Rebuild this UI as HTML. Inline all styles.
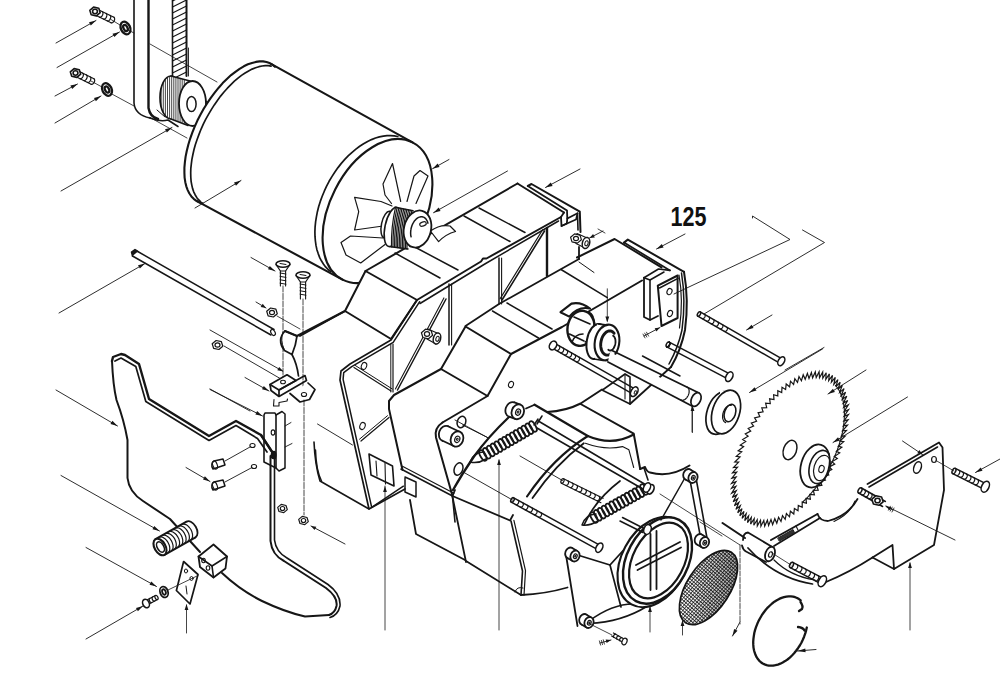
<!DOCTYPE html>
<html><head><meta charset="utf-8"><title>Exploded diagram</title>
<style>html,body{margin:0;padding:0;background:#fff}body{width:1000px;height:683px;overflow:hidden;font-family:"Liberation Sans",sans-serif}svg{display:block}</style>
</head><body>
<svg width="1000" height="683" viewBox="0 0 1000 683" stroke-linecap="round" stroke-linejoin="round">
<rect width="1000" height="683" fill="#fff"/>
<line x1="95.6" y1="15.3" x2="111.1" y2="22.8" stroke="#161616" stroke-width="1.2" />
<line x1="98.4" y1="9.7" x2="113.9" y2="17.2" stroke="#161616" stroke-width="1.2" />
<ellipse cx="97" cy="12.5" rx="1.9" ry="3.1" transform="rotate(25.8 97 12.5)" fill="none" stroke="#161616" stroke-width="1.2" />
<path d="M102.2 11.6 L102.8 12.1 L103 13 L102.9 14.1 L102.5 15.2 L101.9 16.2 L101.1 16.9 L100.3 17.3 L99.5 17.2" fill="none" stroke="#161616" stroke-width="1.2" />
<path d="M106.1 13.5 L106.6 14 L106.9 14.8 L106.8 15.9 L106.4 17.1 L105.8 18.1 L105 18.8 L104.1 19.1 L103.4 19" fill="none" stroke="#161616" stroke-width="1.2" />
<path d="M110 15.3 L110.5 15.9 L110.8 16.7 L110.7 17.8 L110.3 18.9 L109.7 19.9 L108.9 20.7 L108 21 L107.3 20.9" fill="none" stroke="#161616" stroke-width="1.2" />
<path d="M113.9 17.2 L114.4 17.7 L114.6 18.6 L114.6 19.7 L114.2 20.8 L113.5 21.8 L112.7 22.5 L111.9 22.9 L111.1 22.8" fill="none" stroke="#161616" stroke-width="1.2" />
<path d="M100.2 12.7 L96.4 15.9 L91.2 14.7 L89.8 10.3 L93.6 7.1 L98.8 8.3 Z" fill="#fff" stroke="#161616" stroke-width="1.6" />
<ellipse cx="95" cy="11.5" rx="2.4" ry="2.2" transform="rotate(0 95 11.5)" fill="none" stroke="#161616" stroke-width="1.6" />
<line x1="76.1" y1="76.8" x2="91.1" y2="84.3" stroke="#161616" stroke-width="1.2" />
<line x1="78.9" y1="71.2" x2="93.9" y2="78.7" stroke="#161616" stroke-width="1.2" />
<ellipse cx="77.5" cy="74" rx="1.9" ry="3.1" transform="rotate(26.6 77.5 74)" fill="none" stroke="#161616" stroke-width="1.2" />
<path d="M82.6 73.1 L83.2 73.6 L83.4 74.5 L83.3 75.6 L82.9 76.7 L82.3 77.7 L81.4 78.4 L80.6 78.8 L79.9 78.6" fill="none" stroke="#161616" stroke-width="1.2" />
<path d="M86.4 75 L86.9 75.5 L87.2 76.4 L87.1 77.5 L86.7 78.6 L86 79.6 L85.2 80.3 L84.4 80.6 L83.6 80.5" fill="none" stroke="#161616" stroke-width="1.2" />
<path d="M90.1 76.9 L90.7 77.4 L90.9 78.3 L90.8 79.3 L90.4 80.5 L89.8 81.5 L88.9 82.2 L88.1 82.5 L87.4 82.4" fill="none" stroke="#161616" stroke-width="1.2" />
<path d="M93.9 78.7 L94.4 79.3 L94.7 80.1 L94.6 81.2 L94.2 82.3 L93.5 83.3 L92.7 84 L91.9 84.4 L91.1 84.3" fill="none" stroke="#161616" stroke-width="1.2" />
<path d="M80.7 74.2 L76.9 77.4 L71.7 76.2 L70.3 71.8 L74.1 68.6 L79.3 69.8 Z" fill="#fff" stroke="#161616" stroke-width="1.6" />
<ellipse cx="75.5" cy="73" rx="2.4" ry="2.2" transform="rotate(0 75.5 73)" fill="none" stroke="#161616" stroke-width="1.6" />
<ellipse cx="125.5" cy="28" rx="4.6" ry="6.6" transform="rotate(-25 125.5 28)" fill="#fff" stroke="#161616" stroke-width="2.3" />
<ellipse cx="125.5" cy="28" rx="2" ry="3.3" transform="rotate(-25 125.5 28)" fill="none" stroke="#161616" stroke-width="2.3" />
<ellipse cx="107" cy="89.5" rx="4.6" ry="6.6" transform="rotate(-25 107 89.5)" fill="#fff" stroke="#161616" stroke-width="2.3" />
<ellipse cx="107" cy="89.5" rx="2" ry="3.3" transform="rotate(-25 107 89.5)" fill="none" stroke="#161616" stroke-width="2.3" />
<line x1="56" y1="43" x2="96" y2="20.5" stroke="#161616" stroke-width="0.9" />
<path d="M96 20.5 L90.8 25.6 L89 22.3 Z" fill="#161616" stroke="none"/>
<line x1="57" y1="67.5" x2="119.5" y2="32" stroke="#161616" stroke-width="0.9" />
<path d="M119.5 32 L114.4 37.1 L112.5 33.8 Z" fill="#161616" stroke="none"/>
<line x1="55" y1="96" x2="77.5" y2="84" stroke="#161616" stroke-width="0.9" />
<path d="M77.5 84 L72.2 89 L70.4 85.6 Z" fill="#161616" stroke="none"/>
<line x1="55" y1="123" x2="101" y2="96" stroke="#161616" stroke-width="0.9" />
<path d="M101 96 L95.9 101.2 L94 97.9 Z" fill="#161616" stroke="none"/>
<line x1="111" y1="19.5" x2="120" y2="25" stroke="#161616" stroke-width="0.8" />
<line x1="128" y1="30" x2="134" y2="33" stroke="#161616" stroke-width="0.8" />
<line x1="91" y1="81" x2="102" y2="87" stroke="#161616" stroke-width="0.8" />
<line x1="110" y1="93" x2="134" y2="106" stroke="#161616" stroke-width="0.8" />
<line x1="61" y1="191" x2="172" y2="127.5" stroke="#161616" stroke-width="0.9" />
<path d="M172 127.5 L166.9 132.6 L165 129.3 Z" fill="#161616" stroke="none"/>
<path d="M134 0 L134 103 Q135 115 150 118" fill="none" stroke="#161616" stroke-width="1.6" />
<path d="M148.5 0 L148.5 108 Q150 117 158 119" fill="none" stroke="#161616" stroke-width="2.4" />
<line x1="150" y1="44" x2="217" y2="82" stroke="#161616" stroke-width="0.8" />
<line x1="150" y1="117.5" x2="187" y2="138" stroke="#161616" stroke-width="0.8" />
<line x1="172.5" y1="0" x2="172.5" y2="76" stroke="#161616" stroke-width="1.6" />
<line x1="186.5" y1="0" x2="186.5" y2="76" stroke="#161616" stroke-width="2" />
<line x1="188.5" y1="48" x2="188.5" y2="76" stroke="#161616" stroke-width="0.9" />
<line x1="172.5" y1="1" x2="186.5" y2="-6" stroke="#161616" stroke-width="1.2" />
<line x1="172.5" y1="7" x2="186.5" y2="0" stroke="#161616" stroke-width="1.2" />
<line x1="172.5" y1="13" x2="186.5" y2="6" stroke="#161616" stroke-width="1.2" />
<line x1="172.5" y1="19" x2="186.5" y2="12" stroke="#161616" stroke-width="1.2" />
<line x1="172.5" y1="25" x2="186.5" y2="18" stroke="#161616" stroke-width="1.2" />
<line x1="172.5" y1="31" x2="186.5" y2="24" stroke="#161616" stroke-width="1.2" />
<line x1="172.5" y1="37" x2="186.5" y2="30" stroke="#161616" stroke-width="1.2" />
<line x1="172.5" y1="43" x2="186.5" y2="36" stroke="#161616" stroke-width="1.2" />
<line x1="172.5" y1="49" x2="186.5" y2="42" stroke="#161616" stroke-width="1.2" />
<line x1="172.5" y1="55" x2="186.5" y2="48" stroke="#161616" stroke-width="1.2" />
<line x1="172.5" y1="61" x2="186.5" y2="54" stroke="#161616" stroke-width="1.2" />
<line x1="172.5" y1="67" x2="186.5" y2="60" stroke="#161616" stroke-width="1.2" />
<line x1="172.5" y1="73" x2="186.5" y2="66" stroke="#161616" stroke-width="1.2" />
<line x1="172.5" y1="79" x2="186.5" y2="72" stroke="#161616" stroke-width="1.2" />
<ellipse cx="171" cy="97.5" rx="11" ry="21.5" transform="rotate(0 171 97.5)" fill="#fff" stroke="#161616" stroke-width="1.7" />
<path d="M171 76 L190 81 L190 127 L171 119 Z" fill="#fff" stroke="#161616" stroke-width="0" />
<line x1="171" y1="76" x2="190" y2="81" stroke="#161616" stroke-width="1.7" />
<line x1="171" y1="119" x2="188" y2="125.5" stroke="#161616" stroke-width="1.5" />
<line x1="161.2" y1="88.2" x2="161.2" y2="106.8" stroke="#161616" stroke-width="0.8" />
<line x1="163.3" y1="82.6" x2="163.3" y2="112.4" stroke="#161616" stroke-width="0.8" />
<line x1="165.4" y1="79.5" x2="165.4" y2="115.5" stroke="#161616" stroke-width="0.8" />
<line x1="167.5" y1="77.6" x2="167.5" y2="117.4" stroke="#161616" stroke-width="0.8" />
<line x1="169.6" y1="76.7" x2="169.6" y2="118.3" stroke="#161616" stroke-width="0.8" />
<line x1="171.7" y1="76.7" x2="171.7" y2="118.7" stroke="#161616" stroke-width="0.8" />
<line x1="173.8" y1="77.2" x2="173.8" y2="119.5" stroke="#161616" stroke-width="0.8" />
<line x1="175.9" y1="77.8" x2="175.9" y2="120.2" stroke="#161616" stroke-width="0.8" />
<line x1="178" y1="78.3" x2="178" y2="121" stroke="#161616" stroke-width="0.8" />
<line x1="180.1" y1="78.9" x2="180.1" y2="121.7" stroke="#161616" stroke-width="0.8" />
<line x1="182.2" y1="79.4" x2="182.2" y2="122.4" stroke="#161616" stroke-width="0.8" />
<line x1="184.3" y1="80" x2="184.3" y2="123.2" stroke="#161616" stroke-width="0.8" />
<ellipse cx="204.5" cy="106" rx="3.4" ry="5.5" transform="rotate(0 204.5 106)" fill="#fff" stroke="#161616" stroke-width="1.2" />
<ellipse cx="192.5" cy="103.5" rx="13.5" ry="22.5" transform="rotate(0 192.5 103.5)" fill="#fff" stroke="#161616" stroke-width="1.8" />
<ellipse cx="191.5" cy="104" rx="4.6" ry="7.5" transform="rotate(0 191.5 104)" fill="none" stroke="#161616" stroke-width="1.5" />
<path d="M150 118 Q160 122 168 120 L178 126.5" fill="none" stroke="#161616" stroke-width="1.5" />
<path d="M157 110 L165 117" fill="none" stroke="#161616" stroke-width="1" />
<ellipse cx="234" cy="132.5" rx="78" ry="38" transform="rotate(-62 234 132.5)" fill="#fff" stroke="#161616" stroke-width="0" />
<path d="M270.6 63.6 L412.5 142.4 L342.5 279.6 L197.4 201.4 Z" fill="#fff" stroke="#161616" stroke-width="0" />
<ellipse cx="377.5" cy="211" rx="77" ry="47.5" transform="rotate(-63 377.5 211)" fill="#fff" stroke="#161616" stroke-width="0" />
<path d="M202.4 203.2 L199.2 202.2 L196.3 200.8 L193.7 198.8 L191.4 196.4 L189.4 193.5 L187.7 190.1 L186.3 186.3 L185.3 182.2 L184.6 177.6 L184.4 172.8 L184.4 167.6 L184.9 162.2 L185.6 156.6 L186.8 150.8 L188.3 144.8 L190.1 138.8 L192.3 132.7 L194.7 126.6 L197.4 120.6 L200.4 114.7 L203.7 108.8 L207.2 103.2 L210.8 97.8 L214.7 92.6 L218.7 87.7 L222.7 83.1 L226.9 79 L231.1 75.1 L235.4 71.8 L239.6 68.8 L243.8 66.3 L247.9 64.3 L252 62.9 L255.9 61.9 L259.6 61.4 L263.1 61.4 L266.5 62 L269.5 63.1 L272.4 64.7 L274.9 66.8" fill="none" stroke="#161616" stroke-width="2.1" />
<path d="M200.5 201.6 L198.5 199.7 L196.7 197.4 L195.1 194.7 L193.7 191.8 L192.6 188.6 L191.8 185.1 L191.1 181.3 L190.8 177.3 L190.7 173.1 L190.8 168.7 L191.3 164.1 L191.9 159.4 L192.9 154.5 L194 149.5 L195.4 144.5 L197.1 139.5 L199 134.4 L201 129.3 L203.3 124.2 L205.8 119.2 L208.5 114.4 L211.3 109.6 L214.3 104.9 L217.4 100.4 L220.6 96.1 L224 92 L227.4 88.2 L230.9 84.6 L234.4 81.2 L238 78.2 L241.5 75.4 L245.1 73 L248.6 70.9 L252.1 69.1 L255.6 67.7 L258.9 66.7 L262.1 66 L265.3 65.6 L268.3 65.7 L271.1 66.1" fill="none" stroke="#161616" stroke-width="1.7" />
<line x1="270.6" y1="63.6" x2="412.5" y2="142.4" stroke="#161616" stroke-width="2.1" />
<line x1="197.4" y1="201.4" x2="342.5" y2="279.6" stroke="#161616" stroke-width="2.1" />
<ellipse cx="377.5" cy="211" rx="77" ry="47.5" transform="rotate(-63 377.5 211)" fill="none" stroke="#161616" stroke-width="2.1" />
<path d="M330.8 271.7 L328.1 269.5 L325.6 266.9 L323.4 264 L321.4 260.8 L319.6 257.4 L318.2 253.6 L316.9 249.7 L316 245.4 L315.4 241 L315 236.4 L314.9 231.7 L315.1 226.8 L315.6 221.8 L316.4 216.8 L317.4 211.7 L318.7 206.5 L320.3 201.4 L322.2 196.3 L324.3 191.2 L326.6 186.2 L329.1 181.3 L331.9 176.6 L334.9 172 L338 167.6 L341.3 163.4 L344.8 159.4 L348.4 155.7 L352.1 152.3 L355.9 149.1 L359.7 146.2 L363.6 143.7 L367.6 141.4 L371.5 139.6 L375.5 138 L379.4 136.9 L383.3 136.1 L387 135.6 L390.7 135.6 L394.3 135.9 L397.8 136.5" fill="none" stroke="#161616" stroke-width="1.7" />
<line x1="195" y1="208" x2="241" y2="180.5" stroke="#161616" stroke-width="0.9" />
<path d="M241 180.5 L236 185.7 L234 182.5 Z" fill="#161616" stroke="none"/>
<line x1="136" y1="250.5" x2="274" y2="329.5" stroke="#161616" stroke-width="1.5" />
<line x1="132.5" y1="256" x2="271" y2="335" stroke="#161616" stroke-width="1.5" />
<path d="M132.5 256 L131.5 252 L135 249.5 L138 251.5" fill="#161616" stroke="#161616" stroke-width="1.5" />
<ellipse cx="273" cy="332.5" rx="2" ry="3.2" transform="rotate(-30 273 332.5)" fill="none" stroke="#161616" stroke-width="1.2" />
<line x1="59" y1="313" x2="145" y2="263.5" stroke="#161616" stroke-width="0.9" />
<path d="M145 263.5 L139.9 268.6 L138 265.3 Z" fill="#161616" stroke="none"/>
<ellipse cx="283" cy="264" rx="7" ry="3.2" transform="rotate(0 283 264)" fill="#fff" stroke="#161616" stroke-width="1.5" />
<path d="M276 264.5 L280.4 271 L285.6 271 L290 264.5" fill="none" stroke="#161616" stroke-width="1.2" />
<line x1="280.4" y1="271" x2="280.4" y2="286" stroke="#161616" stroke-width="1.1" />
<line x1="285.6" y1="271" x2="285.6" y2="286" stroke="#161616" stroke-width="1.1" />
<line x1="280.1" y1="273" x2="285.9" y2="274" stroke="#161616" stroke-width="1" />
<line x1="280.1" y1="276.4" x2="285.9" y2="277.4" stroke="#161616" stroke-width="1" />
<line x1="280.1" y1="279.8" x2="285.9" y2="280.8" stroke="#161616" stroke-width="1" />
<line x1="280.1" y1="283.2" x2="285.9" y2="284.2" stroke="#161616" stroke-width="1" />
<line x1="280" y1="263.5" x2="286" y2="264.5" stroke="#161616" stroke-width="1" />
<ellipse cx="303" cy="275" rx="7" ry="3.2" transform="rotate(0 303 275)" fill="#fff" stroke="#161616" stroke-width="1.5" />
<path d="M296 275.5 L300.4 282 L305.6 282 L310 275.5" fill="none" stroke="#161616" stroke-width="1.2" />
<line x1="300.4" y1="282" x2="300.4" y2="299" stroke="#161616" stroke-width="1.1" />
<line x1="305.6" y1="282" x2="305.6" y2="299" stroke="#161616" stroke-width="1.1" />
<line x1="300.1" y1="284" x2="305.9" y2="285" stroke="#161616" stroke-width="1" />
<line x1="300.1" y1="287.4" x2="305.9" y2="288.4" stroke="#161616" stroke-width="1" />
<line x1="300.1" y1="290.8" x2="305.9" y2="291.8" stroke="#161616" stroke-width="1" />
<line x1="300.1" y1="294.2" x2="305.9" y2="295.2" stroke="#161616" stroke-width="1" />
<line x1="300" y1="274.5" x2="306" y2="275.5" stroke="#161616" stroke-width="1" />
<line x1="283" y1="286" x2="283" y2="382" stroke="#161616" stroke-width="0.8" stroke-dasharray="6 1.5"/>
<line x1="303" y1="299" x2="303" y2="395" stroke="#161616" stroke-width="0.8" stroke-dasharray="6 1.5"/>
<line x1="251" y1="257.5" x2="275" y2="271" stroke="#161616" stroke-width="0.9" />
<path d="M275 271 L268 269.2 L269.8 265.9 Z" fill="#161616" stroke="none"/>
<path d="M277.3 313.7 L273.4 317 L268.1 315.8 L266.7 311.3 L270.6 308 L275.9 309.2 Z" fill="#fff" stroke="#161616" stroke-width="1.2" />
<ellipse cx="272" cy="312.5" rx="2.5" ry="2.2" transform="rotate(0 272 312.5)" fill="none" stroke="#161616" stroke-width="1.2" />
<line x1="256" y1="302" x2="266" y2="308" stroke="#161616" stroke-width="0.9" />
<path d="M266 308 L260.7 307.1 L262.7 303.8 Z" fill="#161616" stroke="none"/>
<line x1="277" y1="316" x2="300" y2="329" stroke="#161616" stroke-width="0.8" />
<path d="M222.8 346.2 L218.9 349.5 L213.6 348.3 L212.2 343.8 L216.1 340.5 L221.4 341.7 Z" fill="#fff" stroke="#161616" stroke-width="1.2" />
<ellipse cx="217.5" cy="345" rx="2.5" ry="2.2" transform="rotate(0 217.5 345)" fill="none" stroke="#161616" stroke-width="1.2" />
<line x1="210" y1="330" x2="282.5" y2="371" stroke="#161616" stroke-width="0.9" />
<line x1="224" y1="346" x2="281" y2="379" stroke="#161616" stroke-width="0.9" />
<path d="M283.5 371.5 L277.3 370.2 L279.2 366.9 Z" fill="#161616" stroke="none"/>
<line x1="245" y1="377.5" x2="269" y2="391" stroke="#161616" stroke-width="0.9" />
<path d="M269 391 L262 389.2 L263.8 385.9 Z" fill="#161616" stroke="none"/>
<line x1="210" y1="389" x2="250" y2="411" stroke="#161616" stroke-width="0.9" />
<line x1="210" y1="389.5" x2="262.5" y2="416" stroke="#161616" stroke-width="0.9" />
<path d="M262.5 416 L255.4 414.5 L257.1 411.1 Z" fill="#161616" stroke="none"/>
<path d="M391.5 203.5 L385 195 L383 184 L392.5 163.5 L400.7 201.5" fill="#fff" stroke="#161616" stroke-width="1.2" />
<path d="M407 201.5 L414 176 L420 170.5 L428 176 L416 203.5" fill="#fff" stroke="#161616" stroke-width="1.2" />
<path d="M383 226 L354.6 230 L358.7 211.7 L354.6 197.4 L381 201.5 L392 206" fill="#fff" stroke="#161616" stroke-width="1.2" />
<path d="M385 244.5 L360.7 263 L346 255 L341 242.5 L350.5 236 L383 238" fill="#fff" stroke="#161616" stroke-width="1.2" />
<path d="M365.5 271 L517.5 183.5 L564 212.5 L417 300 Z" fill="#fff" stroke="#161616" stroke-width="0" />
<path d="M365.5 271 L417 300 L391 339 L345 311 Z" fill="#fff" stroke="#161616" stroke-width="0" />
<path d="M285 331 Q276.5 340 284.5 350.5 L292 354.5 Q296 345 297 336 Z" fill="#fff" stroke="#161616" stroke-width="1.8" />
<path d="M285 331 L297 336 L345 311" fill="none" stroke="#161616" stroke-width="2.1" />
<path d="M292 354.5 Q297 364 298.5 376" fill="none" stroke="#161616" stroke-width="1.7" />
<path d="M283 332 Q280 340 284 349" fill="none" stroke="#161616" stroke-width="1" />
<path d="M365.5 271 L417 300 L391 339 L345 311 Z" fill="none" stroke="#161616" stroke-width="2" />
<line x1="345" y1="311" x2="300" y2="336" stroke="#161616" stroke-width="1.8" />
<line x1="365.5" y1="271" x2="517.5" y2="183.5" stroke="#161616" stroke-width="2" />
<path d="M517.5 183.5 L564 212.5" fill="none" stroke="#161616" stroke-width="2" />
<path d="M527.8 186 L531.5 184 L579.8 211.7 L580.5 232" fill="none" stroke="#161616" stroke-width="2" />
<path d="M527.8 186 L567 210.5 L567.3 218.5 L577.5 213.3" fill="none" stroke="#161616" stroke-width="1.8" />
<path d="M564 212.5 L561 217 L561.5 226 L566.8 223.5 L567.3 218.5" fill="none" stroke="#161616" stroke-width="1.8" />
<path d="M561.5 226 L576 219.5 L577.5 213.3 L578 230" fill="none" stroke="#161616" stroke-width="1.6" />
<line x1="579" y1="247" x2="579" y2="259" stroke="#161616" stroke-width="1.8" />
<path d="M417 300 L481 261.5 L483 258.5 L486.5 258.5 L561 217" fill="none" stroke="#161616" stroke-width="2" />
<path d="M420 303.5 L484 264.5 L558.5 221" fill="none" stroke="#161616" stroke-width="1.5" />
<line x1="479" y1="208" x2="525" y2="232.5" stroke="#161616" stroke-width="1.5" />
<line x1="464" y1="216" x2="510" y2="241.5" stroke="#161616" stroke-width="1.5" />
<line x1="411" y1="245" x2="458" y2="270" stroke="#161616" stroke-width="1.5" />
<line x1="395" y1="253" x2="440" y2="278" stroke="#161616" stroke-width="1.5" />
<path d="M449 284 L449 345" fill="none" stroke="#161616" stroke-width="1.5" />
<path d="M451.6 284 L451.6 345" fill="none" stroke="#161616" stroke-width="1.1" />
<path d="M446 299 L397.5 390" fill="none" stroke="#161616" stroke-width="1.5" />
<path d="M443.9 297.9 L395.4 388.9" fill="none" stroke="#161616" stroke-width="1.1" />
<path d="M499 258 L499 304" fill="none" stroke="#161616" stroke-width="1.5" />
<path d="M501.6 258 L501.6 304" fill="none" stroke="#161616" stroke-width="1.1" />
<path d="M544.5 231 L502 300" fill="none" stroke="#161616" stroke-width="1.6" />
<path d="M542.6 229.8 L500.1 298.8" fill="none" stroke="#161616" stroke-width="1.2" />
<line x1="547" y1="228" x2="547" y2="276" stroke="#161616" stroke-width="2.4" />
<path d="M465.5 326 L499 304 L547 277 L579 259" fill="none" stroke="#161616" stroke-width="1.8" />
<path d="M417 300 L391 340 L350 364 L341 371 L340 380 L369 509 L405 489" fill="none" stroke="#161616" stroke-width="1.7" />
<path d="M419.7 301.7 L393.2 342.3 L351.7 366.7 L343.7 372.7 L343.1 379.4 L371.7 507.4 L403.4 486.2" fill="none" stroke="#161616" stroke-width="1.5" />
<path d="M354 367.5 L391 391" fill="none" stroke="#161616" stroke-width="1.2" />
<path d="M355.3 365.5 L392.3 389" fill="none" stroke="#161616" stroke-width="1" />
<path d="M393 344 L393 392" fill="none" stroke="#161616" stroke-width="1.2" />
<path d="M390.8 344 L390.8 392" fill="none" stroke="#161616" stroke-width="1" />
<path d="M361 441 L389 417.5" fill="none" stroke="#161616" stroke-width="1.2" />
<path d="M359.5 439.2 L387.5 415.7" fill="none" stroke="#161616" stroke-width="1" />
<ellipse cx="364" cy="366" rx="2.6" ry="3.6" transform="rotate(20 364 366)" fill="none" stroke="#161616" stroke-width="1.1" />
<ellipse cx="362.5" cy="426" rx="2.6" ry="3.6" transform="rotate(20 362.5 426)" fill="none" stroke="#161616" stroke-width="1.1" />
<path d="M432.6 335.3 L428.5 338.8 L422.9 337.5 L421.4 332.7 L425.5 329.2 L431.1 330.5 Z" fill="#fff" stroke="#161616" stroke-width="1.2" />
<ellipse cx="427" cy="334" rx="2.6" ry="2.3" transform="rotate(0 427 334)" fill="none" stroke="#161616" stroke-width="1.2" />
<path d="M428 329 L437 333" fill="none" stroke="#161616" stroke-width="1.2" />
<path d="M427 339 L436 344" fill="none" stroke="#161616" stroke-width="1.2" />
<ellipse cx="437" cy="338.5" rx="3.6" ry="5.6" transform="rotate(15 437 338.5)" fill="#fff" stroke="#161616" stroke-width="1.5" />
<ellipse cx="437.5" cy="338.8" rx="1.6" ry="2.6" transform="rotate(15 437.5 338.8)" fill="none" stroke="#161616" stroke-width="1" />
<path d="M369 454 L392.5 466 L394 486 L371 475 Z" fill="none" stroke="#161616" stroke-width="1.6" />
<path d="M376 461 L377 476" fill="none" stroke="#161616" stroke-width="1.1" />
<path d="M385 463 L385.5 484" fill="none" stroke="#161616" stroke-width="1.1" />
<line x1="385" y1="630" x2="385" y2="486" stroke="#161616" stroke-width="0.8" />
<path d="M385 486 L386.9 492 L383.1 492 Z" fill="#161616" stroke="none"/>
<path d="M317.5 424 L352.5 445" fill="none" stroke="#161616" stroke-width="0.9" />
<path d="M314 442 Q315 465 320 481 L369 509" fill="none" stroke="#161616" stroke-width="1.6" />
<path d="M430.4 231 Q440 224 450 226 L455.5 231.5 Q446 234 438.6 241.6 Z" fill="#fff" stroke="#161616" stroke-width="1.2" />
<ellipse cx="387" cy="224.5" rx="5.5" ry="13.5" transform="rotate(12 387 224.5)" fill="#fff" stroke="#161616" stroke-width="1.5" />
<ellipse cx="393" cy="227" rx="8" ry="20" transform="rotate(12 393 227)" fill="#fff" stroke="#161616" stroke-width="1.6" />
<path d="M395 207.3 L412 210.5 L409 249 L391 246.7 Z" fill="#fff" stroke="#161616" stroke-width="0" />
<line x1="395" y1="207.3" x2="413" y2="210.8" stroke="#161616" stroke-width="1.6" />
<line x1="391" y1="246.7" x2="408" y2="249" stroke="#161616" stroke-width="1.5" />
<path d="M395.5 207.4 Q391 227.1 391.5 246.8" fill="none" stroke="#161616" stroke-width="1.2" />
<path d="M397.1 207.7 Q392.6 227.3 393 247" fill="none" stroke="#161616" stroke-width="1.2" />
<path d="M398.8 208 Q394.2 227.6 394.6 247.2" fill="none" stroke="#161616" stroke-width="1.2" />
<path d="M400.4 208.4 Q395.8 227.9 396.1 247.4" fill="none" stroke="#161616" stroke-width="1.2" />
<path d="M402 208.7 Q397.3 228.1 397.6 247.6" fill="none" stroke="#161616" stroke-width="1.2" />
<path d="M403.7 209 Q398.9 228.4 399.2 247.8" fill="none" stroke="#161616" stroke-width="1.2" />
<path d="M405.3 209.3 Q400.5 228.7 400.7 248" fill="none" stroke="#161616" stroke-width="1.2" />
<path d="M406.9 209.6 Q402.1 228.9 402.3 248.2" fill="none" stroke="#161616" stroke-width="1.2" />
<path d="M408.6 209.9 Q403.7 229.2 403.8 248.4" fill="none" stroke="#161616" stroke-width="1.2" />
<path d="M410.2 210.3 Q405.3 229.5 405.4 248.6" fill="none" stroke="#161616" stroke-width="1.2" />
<path d="M411.9 210.6 Q406.9 229.7 406.9 248.9" fill="none" stroke="#161616" stroke-width="1.2" />
<ellipse cx="417.5" cy="229" rx="13.5" ry="18.8" transform="rotate(14 417.5 229)" fill="#fff" stroke="#161616" stroke-width="1.8" />
<path d="M411.1 236.8 L410.9 235.9 L410.7 235 L410.7 234 L410.6 233 L410.7 232 L410.7 230.9 L410.9 229.9 L411 228.9 L411.3 227.8 L411.6 226.8 L411.9 225.8 L412.3 224.8 L412.7 223.9 L413.2 223 L413.7 222.1 L414.2 221.3 L414.8 220.6 L415.4 219.9 L416 219.2 L416.7 218.6 L417.4 218.1 L418.1 217.7 L418.7 217.4 L419.4 217.1 L420.1 216.9 L420.8 216.8 L421.5 216.7 L422.2 216.8 L422.8 216.9 L423.5 217.1 L424.1 217.4 L424.7 217.8 L425.2 218.2 L425.7 218.7 L426.2 219.3 L426.6 220 L427 220.7 L427.4 221.5 L427.7 222.3 L427.9 223.2" fill="none" stroke="#161616" stroke-width="1.5" />
<ellipse cx="423" cy="224" rx="3.4" ry="2" transform="rotate(-20 423 224)" fill="none" stroke="#161616" stroke-width="1.1" />
<line x1="449" y1="159.5" x2="432.5" y2="168.7" stroke="#161616" stroke-width="0.9" />
<path d="M432.5 168.7 L437.7 163.6 L439.5 167 Z" fill="#161616" stroke="none"/>
<line x1="507.5" y1="171" x2="433.5" y2="212.7" stroke="#161616" stroke-width="0.9" />
<path d="M433.5 212.7 L438.7 207.6 L440.5 210.9 Z" fill="#161616" stroke="none"/>
<path d="M465.5 326.5 L511 354 L487.5 396 L441 369 Z" fill="none" stroke="#161616" stroke-width="2" />
<path d="M441 369 L394 395 L389 401 L389 409 L402.5 470" fill="none" stroke="#161616" stroke-width="2" />
<path d="M511 354 L562 327 L642 280.5" fill="none" stroke="#161616" stroke-width="2" />
<line x1="492.5" y1="311" x2="538.5" y2="338" stroke="#161616" stroke-width="1.5" />
<line x1="507" y1="303" x2="552" y2="329" stroke="#161616" stroke-width="1.5" />
<path d="M577 257.5 L614.6 239 L661.5 267.4" fill="none" stroke="#161616" stroke-width="2" />
<path d="M624 242.6 L627.8 239.6 L684 271.8" fill="none" stroke="#161616" stroke-width="2" />
<path d="M624 242.6 L670 270.4" fill="none" stroke="#161616" stroke-width="1.7" />
<line x1="579" y1="262" x2="594" y2="272.5" stroke="#161616" stroke-width="1" />
<line x1="561" y1="269.5" x2="607.3" y2="297.6" stroke="#161616" stroke-width="1.5" />
<path d="M581.4 239.7 L577.4 243.1 L572 241.9 L570.6 237.3 L574.6 233.9 L580 235.1 Z" fill="#fff" stroke="#161616" stroke-width="1.2" />
<ellipse cx="576" cy="238.5" rx="2.5" ry="2.2" transform="rotate(0 576 238.5)" fill="none" stroke="#161616" stroke-width="1.2" />
<path d="M577 233.5 L586 237.5" fill="none" stroke="#161616" stroke-width="1.2" />
<path d="M576 243.5 L585 248" fill="none" stroke="#161616" stroke-width="1.2" />
<ellipse cx="586" cy="243" rx="3.6" ry="5.6" transform="rotate(15 586 243)" fill="#fff" stroke="#161616" stroke-width="1.5" />
<ellipse cx="586.5" cy="243.3" rx="1.6" ry="2.6" transform="rotate(15 586.5 243.3)" fill="none" stroke="#161616" stroke-width="1" />
<line x1="603" y1="231" x2="589.5" y2="238" stroke="#161616" stroke-width="0.9" />
<path d="M589.5 238 L593.1 234 L594.8 237.4 Z" fill="#161616" stroke="none"/>
<line x1="598" y1="229" x2="605" y2="233" stroke="#161616" stroke-width="0.8" />
<line x1="580" y1="169" x2="545.5" y2="187.5" stroke="#161616" stroke-width="0.9" />
<path d="M545.5 187.5 L550.8 182.5 L552.6 185.9 Z" fill="#161616" stroke="none"/>
<line x1="685" y1="234" x2="656.5" y2="249" stroke="#161616" stroke-width="0.9" />
<path d="M656.5 249 L661.8 244.1 L663.6 247.4 Z" fill="#161616" stroke="none"/>
<path d="M644 277.7 L658.5 269 L670 270.4" fill="none" stroke="#161616" stroke-width="1.6" />
<path d="M644 277.7 L644 317 L650 320 L658 316" fill="none" stroke="#161616" stroke-width="1.8" />
<path d="M650 280 L650 320" fill="none" stroke="#161616" stroke-width="1.6" />
<path d="M644 277.7 L650 280 L664 272" fill="none" stroke="#161616" stroke-width="1.5" />
<path d="M657.8 285.7 L677.6 275.5 L677.6 318 L661.5 326 L657.8 285.7" fill="#fff" stroke="#161616" stroke-width="2" />
<path d="M659.5 288 L678 278.3" fill="none" stroke="#161616" stroke-width="1.5" />
<ellipse cx="669.5" cy="291.6" rx="2.4" ry="3.2" transform="rotate(25 669.5 291.6)" fill="none" stroke="#161616" stroke-width="1.1" />
<ellipse cx="670" cy="313.5" rx="2.4" ry="3.2" transform="rotate(25 670 313.5)" fill="none" stroke="#161616" stroke-width="1.1" />
<path d="M684 271.8 Q689 300 685 330 Q681 350 671 367" fill="none" stroke="#161616" stroke-width="2" />
<path d="M681.5 273 Q686 300 682 330 Q678 348 669 364" fill="none" stroke="#161616" stroke-width="1.5" />
<path d="M679 275 Q683.5 300 679.5 328" fill="none" stroke="#161616" stroke-width="1.2" />
<path d="M752.5 218 L752.5 216 L790 239.5 L674 294" fill="none" stroke="#161616" stroke-width="0.9" />
<path d="M802.5 230 L824.5 242.5 L704 314" fill="none" stroke="#161616" stroke-width="0.9" />
<path d="M487.5 396 L442.5 422.5" fill="none" stroke="#161616" stroke-width="2" />
<path d="M442.5 422.5 Q434 428 436 437.5 L452.5 496" fill="none" stroke="#161616" stroke-width="2" />
<path d="M547 412 Q566 411 580.6 403.5 L602 389.5" fill="none" stroke="#161616" stroke-width="2" />
<path d="M602.5 390 L625 374 L630 377 L630 404 L603 390.5" fill="none" stroke="#161616" stroke-width="1.6" />
<path d="M625 374 L625 399" fill="none" stroke="#161616" stroke-width="1.1" />
<path d="M630 404 L671 367" fill="none" stroke="#161616" stroke-width="1.8" />
<line x1="642.5" y1="356" x2="680" y2="376" stroke="#161616" stroke-width="1.5" />
<ellipse cx="511" cy="384.5" rx="2.4" ry="3.2" transform="rotate(20 511 384.5)" fill="none" stroke="#161616" stroke-width="1.1" />
<ellipse cx="461.5" cy="422" rx="4.2" ry="5.8" transform="rotate(20 461.5 422)" fill="none" stroke="#161616" stroke-width="1.5" />
<ellipse cx="458.5" cy="469" rx="4.2" ry="6.4" transform="rotate(20 458.5 469)" fill="none" stroke="#161616" stroke-width="1.5" />
<path d="M401 469 L452.5 496" fill="none" stroke="#161616" stroke-width="1.6" />
<path d="M402.4 466.3 L453.9 493.3" fill="none" stroke="#161616" stroke-width="1.2" />
<path d="M405 477 L416 482 L416 497 L405 492 L405 477" fill="none" stroke="#161616" stroke-width="1.5" />
<path d="M410 500 L416 534 L465 560" fill="none" stroke="#161616" stroke-width="1.8" />
<path d="M452.5 496 L455 522" fill="none" stroke="#161616" stroke-width="1.6" />
<path d="M452.5 497 L466 562" fill="none" stroke="#161616" stroke-width="1.8" />
<line x1="345" y1="544" x2="311" y2="526" stroke="#161616" stroke-width="0.9" />
<path d="M311 526 L316.3 526.7 L314.5 530 Z" fill="#161616" stroke="none"/>
<text x="670.5" y="226" font-family="Liberation Sans, sans-serif" font-weight="700" font-size="27.5" textLength="36" lengthAdjust="spacingAndGlyphs" fill="#111">125</text>
<ellipse cx="581" cy="328.3" rx="13.5" ry="17.6" transform="rotate(8 581 328.3)" fill="#fff" stroke="#161616" stroke-width="2.4" />
<path d="M560.5 312.2 L571.5 303.6 Q581 301.5 590 308.5 Q578 306 569.3 316.6 Z" fill="#fff" stroke="#161616" stroke-width="2.1" />
<path d="M574 317 L590 324 M569.5 334 L584 341 M572 342 Q575 334 583 334" fill="none" stroke="#161616" stroke-width="1.6" />
<path d="M589.4 312.6 L589.9 312.9 L590.4 313.2 L590.9 313.6 L591.3 314.1 L591.8 314.7 L592.2 315.3 L592.5 316 L592.9 316.7 L593.1 317.5 L593.4 318.3 L593.6 319.2 L593.8 320.1 L594 321 L594.1 322 L594.2 323 L594.2 324 L594.2 325 L594.1 326 L594 327.1 L593.9 328.1 L593.8 329.1 L593.6 330.2 L593.3 331.2 L593 332.2 L592.7 333.1 L592.4 334.1 L592 335 L591.6 335.8 L591.2 336.6 L590.7 337.4 L590.2 338.1 L589.7 338.8 L589.2 339.4 L588.7 339.9 L588.2 340.4 L587.6 340.8 L587 341.2 L586.5 341.5 L585.9 341.7 L585.3 341.8" fill="none" stroke="#161616" stroke-width="1.7" />
<line x1="607.3" y1="288.8" x2="607.3" y2="321" stroke="#161616" stroke-width="0.8" />
<path d="M607.3 322.5 L605.4 316.5 L609.2 316.5 Z" fill="#161616" stroke="none"/>
<ellipse cx="596.3" cy="341.5" rx="9.5" ry="17.8" transform="rotate(10 596.3 341.5)" fill="#fff" stroke="#161616" stroke-width="2" />
<path d="M597 324 L607 325.5 L605 361 L595 359 Z" fill="#fff" stroke="#161616" stroke-width="0" />
<line x1="598" y1="323.8" x2="609" y2="325.3" stroke="#161616" stroke-width="1.7" />
<line x1="594" y1="359" x2="603" y2="360.5" stroke="#161616" stroke-width="1.7" />
<ellipse cx="607" cy="342.5" rx="12.2" ry="18" transform="rotate(10 607 342.5)" fill="#fff" stroke="#161616" stroke-width="2.1" />
<path d="M610.4 354.1 L609.6 354.5 L608.8 354.8 L608 355 L607.2 355.1 L606.4 355 L605.6 354.8 L604.9 354.5 L604.2 354 L603.5 353.4 L602.9 352.7 L602.4 351.9 L601.9 351 L601.5 350.1 L601.2 349 L601 347.9 L600.8 346.7 L600.7 345.5 L600.7 344.2 L600.8 342.9 L601 341.7 L601.3 340.4 L601.6 339.2 L602 338 L602.5 336.9 L603.1 335.8 L603.7 334.9 L604.4 334 L605.1 333.2 L605.8 332.5 L606.6 331.9 L607.4 331.5 L608.2 331.2 L609 331 L609.8 330.9 L610.6 331 L611.4 331.2 L612.1 331.5 L612.8 332 L613.5 332.6 L614.1 333.3" fill="none" stroke="#161616" stroke-width="2.9" />
<path d="M613.1 335.8 L613.4 336 L613.7 336.2 L614 336.5 L614.3 336.8 L614.5 337.2 L614.7 337.6 L614.9 338.1 L615.1 338.6 L615.2 339.1 L615.4 339.6 L615.4 340.2 L615.5 340.8 L615.5 341.4 L615.5 342 L615.5 342.6 L615.4 343.2 L615.3 343.9 L615.2 344.5 L615 345.1 L614.8 345.7 L614.6 346.2 L614.4 346.8 L614.1 347.3 L613.9 347.8 L613.6 348.3 L613.2 348.7 L612.9 349.1 L612.6 349.4 L612.2 349.7 L611.8 350 L611.5 350.2 L611.1 350.4 L610.7 350.5 L610.3 350.5 L610 350.5 L609.6 350.5 L609.3 350.4 L608.9 350.2 L608.6 350 L608.3 349.8" fill="none" stroke="#161616" stroke-width="1.8" />
<path d="M610 352 L700 398 L694 407 L608 362 Z" fill="#fff" stroke="#161616" stroke-width="0" />
<line x1="612" y1="350.5" x2="699" y2="393" stroke="#161616" stroke-width="1.8" />
<line x1="608" y1="362" x2="692" y2="406" stroke="#161616" stroke-width="1.8" />
<ellipse cx="696" cy="399.5" rx="4.6" ry="7.2" transform="rotate(25 696 399.5)" fill="#fff" stroke="#161616" stroke-width="1.7" />
<path d="M687 387 L687.4 387.1 L687.7 387.4 L687.9 387.6 L688.2 387.9 L688.4 388.2 L688.6 388.6 L688.8 389 L688.9 389.4 L689 389.8 L689.1 390.3 L689.1 390.7 L689.2 391.2 L689.1 391.7 L689.1 392.3 L689 392.8 L688.9 393.3 L688.8 393.9 L688.6 394.4 L688.4 394.9 L688.2 395.4 L687.9 396 L687.6 396.4 L687.3 396.9 L687 397.4 L686.7 397.8 L686.3 398.2 L686 398.6 L685.6 398.9 L685.2 399.2 L684.8 399.5 L684.4 399.7 L684 399.9 L683.6 400.1 L683.2 400.2 L682.8 400.3 L682.4 400.3 L682 400.3 L681.6 400.2 L681.3 400.2 L681 400" fill="none" stroke="#161616" stroke-width="1.2" />
<line x1="692.5" y1="432.5" x2="692.5" y2="406" stroke="#161616" stroke-width="0.8" />
<path d="M692.5 405 L694.4 411 L690.6 411 Z" fill="#161616" stroke="none"/>
<line x1="552.7" y1="348.3" x2="631.7" y2="393.3" stroke="#161616" stroke-width="1.5" />
<line x1="555.3" y1="343.7" x2="634.3" y2="388.7" stroke="#161616" stroke-width="1.5" />
<ellipse cx="554" cy="346" rx="1.6" ry="2.6" transform="rotate(29.7 554 346)" fill="none" stroke="#161616" stroke-width="1.5" />
<path d="M559.2 346 L559.7 346.5 L559.8 347.2 L559.7 348.1 L559.3 349 L558.7 349.8 L558 350.4 L557.3 350.6 L556.7 350.5" fill="none" stroke="#161616" stroke-width="1.2" />
<path d="M563.2 348.2 L563.6 348.7 L563.8 349.4 L563.6 350.3 L563.3 351.3 L562.7 352.1 L561.9 352.6 L561.2 352.9 L560.6 352.8" fill="none" stroke="#161616" stroke-width="1.2" />
<path d="M567.1 350.5 L567.6 351 L567.7 351.7 L567.6 352.6 L567.2 353.5 L566.6 354.3 L565.9 354.9 L565.2 355.1 L564.6 355" fill="none" stroke="#161616" stroke-width="1.2" />
<path d="M571.1 352.7 L571.5 353.2 L571.7 353.9 L571.5 354.8 L571.2 355.8 L570.6 356.6 L569.8 357.1 L569.1 357.4 L568.5 357.3" fill="none" stroke="#161616" stroke-width="1.2" />
<path d="M575 355 L575.5 355.5 L575.6 356.2 L575.5 357.1 L575.1 358 L574.5 358.8 L573.8 359.4 L573.1 359.6 L572.5 359.5" fill="none" stroke="#161616" stroke-width="1.2" />
<path d="M579 357.2 L579.4 357.7 L579.6 358.4 L579.4 359.3 L579.1 360.3 L578.5 361.1 L577.7 361.6 L577 361.9 L576.4 361.8" fill="none" stroke="#161616" stroke-width="1.2" />
<ellipse cx="634.3" cy="391.7" rx="3.2" ry="5.2" transform="rotate(29.7 634.3 391.7)" fill="#fff" stroke="#161616" stroke-width="1.6" />
<ellipse cx="553" cy="345.5" rx="3.4" ry="4.6" transform="rotate(30 553 345.5)" fill="#fff" stroke="#161616" stroke-width="1.6" />
<ellipse cx="635.5" cy="392.5" rx="1.2" ry="1.8" transform="rotate(30 635.5 392.5)" fill="none" stroke="#161616" stroke-width="1" />
<line x1="666.8" y1="346.8" x2="726.8" y2="378.3" stroke="#161616" stroke-width="1.5" />
<line x1="669.2" y1="342.2" x2="729.2" y2="373.7" stroke="#161616" stroke-width="1.5" />
<ellipse cx="668" cy="344.5" rx="1.6" ry="2.6" transform="rotate(27.7 668 344.5)" fill="none" stroke="#161616" stroke-width="1.5" />
<path d="M669.2 342.2 L669.6 342.7 L669.8 343.4 L669.7 344.3 L669.4 345.2 L668.8 346.1 L668.1 346.6 L667.4 346.9 L666.8 346.8" fill="none" stroke="#161616" stroke-width="1.2" />
<path d="M669.2 342.2 L669.6 342.7 L669.8 343.4 L669.7 344.3 L669.4 345.2 L668.8 346.1 L668.1 346.6 L667.4 346.9 L666.8 346.8" fill="none" stroke="#161616" stroke-width="1.2" />
<path d="M669.2 342.2 L669.6 342.7 L669.8 343.4 L669.7 344.3 L669.4 345.2 L668.8 346.1 L668.1 346.6 L667.4 346.9 L666.8 346.8" fill="none" stroke="#161616" stroke-width="1.2" />
<path d="M669.2 342.2 L669.6 342.7 L669.8 343.4 L669.7 344.3 L669.4 345.2 L668.8 346.1 L668.1 346.6 L667.4 346.9 L666.8 346.8" fill="none" stroke="#161616" stroke-width="1.2" />
<path d="M669.2 342.2 L669.6 342.7 L669.8 343.4 L669.7 344.3 L669.4 345.2 L668.8 346.1 L668.1 346.6 L667.4 346.9 L666.8 346.8" fill="none" stroke="#161616" stroke-width="1.2" />
<path d="M669.2 342.2 L669.6 342.7 L669.8 343.4 L669.7 344.3 L669.4 345.2 L668.8 346.1 L668.1 346.6 L667.4 346.9 L666.8 346.8" fill="none" stroke="#161616" stroke-width="1.2" />
<ellipse cx="729.3" cy="376.7" rx="3.2" ry="5.2" transform="rotate(27.7 729.3 376.7)" fill="#fff" stroke="#161616" stroke-width="1.6" />
<line x1="697.8" y1="316.1" x2="778.8" y2="362.6" stroke="#161616" stroke-width="1.5" />
<line x1="700.2" y1="311.9" x2="781.2" y2="358.4" stroke="#161616" stroke-width="1.5" />
<ellipse cx="699" cy="314" rx="1.4" ry="2.4" transform="rotate(29.9 699 314)" fill="none" stroke="#161616" stroke-width="1.5" />
<path d="M704.6 314.5 L705 314.9 L705.2 315.6 L705.1 316.4 L704.7 317.3 L704.2 318 L703.5 318.5 L702.8 318.8 L702.3 318.6" fill="none" stroke="#161616" stroke-width="1.2" />
<path d="M709.1 317 L709.5 317.5 L709.6 318.2 L709.5 319 L709.2 319.8 L708.6 320.6 L707.9 321.1 L707.3 321.3 L706.7 321.2" fill="none" stroke="#161616" stroke-width="1.2" />
<path d="M713.6 319.6 L713.9 320 L714.1 320.7 L714 321.5 L713.6 322.4 L713.1 323.1 L712.4 323.7 L711.7 323.9 L711.2 323.8" fill="none" stroke="#161616" stroke-width="1.2" />
<path d="M718 322.1 L718.4 322.6 L718.5 323.3 L718.4 324.1 L718.1 324.9 L717.5 325.7 L716.9 326.2 L716.2 326.4 L715.6 326.3" fill="none" stroke="#161616" stroke-width="1.2" />
<path d="M722.5 324.7 L722.9 325.1 L723 325.8 L722.9 326.7 L722.5 327.5 L722 328.2 L721.3 328.8 L720.6 329 L720.1 328.9" fill="none" stroke="#161616" stroke-width="1.2" />
<path d="M726.9 327.3 L727.3 327.7 L727.5 328.4 L727.3 329.2 L727 330.1 L726.4 330.8 L725.8 331.3 L725.1 331.5 L724.5 331.4" fill="none" stroke="#161616" stroke-width="1.2" />
<ellipse cx="781.3" cy="361.2" rx="3" ry="4.8" transform="rotate(29.9 781.3 361.2)" fill="#fff" stroke="#161616" stroke-width="1.6" />
<line x1="772" y1="315" x2="746.5" y2="330" stroke="#161616" stroke-width="0.9" />
<path d="M746.5 330 L751.6 324.8 L753.5 328.1 Z" fill="#161616" stroke="none"/>
<line x1="785" y1="370" x2="824" y2="347.5" stroke="#161616" stroke-width="0.9" />
<line x1="644" y1="336" x2="660" y2="327.5" stroke="#161616" stroke-width="0.9" />
<path d="M660 327.5 L656.4 331.4 L654.7 328.3 Z" fill="#161616" stroke="none"/>
<line x1="645" y1="337.9" x2="643" y2="334.1" stroke="#161616" stroke-width="0.8" />
<line x1="646.8" y1="337" x2="644.7" y2="333.1" stroke="#161616" stroke-width="0.8" />
<line x1="648.6" y1="336.1" x2="646.5" y2="332.2" stroke="#161616" stroke-width="0.8" />
<ellipse cx="720" cy="413" rx="13" ry="22" transform="rotate(18 720 413)" fill="#fff" stroke="#161616" stroke-width="1.7" />
<path d="M720 391 L728 390.5 L728 434.5 L720 435 Z" fill="#fff" stroke="#161616" stroke-width="0" />
<ellipse cx="726" cy="412" rx="13.5" ry="22.5" transform="rotate(18 726 412)" fill="#fff" stroke="#161616" stroke-width="1.7" />
<ellipse cx="730" cy="413" rx="5.5" ry="9" transform="rotate(18 730 413)" fill="none" stroke="#161616" stroke-width="1.6" />
<path d="M725.7 422.6 L725.3 422.4 L724.9 422.2 L724.6 421.9 L724.2 421.6 L723.9 421.3 L723.6 420.9 L723.4 420.4 L723.2 419.9 L723 419.4 L722.8 418.9 L722.7 418.3 L722.6 417.7 L722.6 417 L722.6 416.4 L722.6 415.7 L722.7 415 L722.8 414.3 L722.9 413.7 L723.1 413 L723.3 412.3 L723.5 411.6 L723.8 411 L724.1 410.3 L724.4 409.7 L724.7 409.2 L725.1 408.6 L725.5 408.1 L725.9 407.6 L726.3 407.1 L726.8 406.7 L727.2 406.4 L727.7 406.1 L728.1 405.8 L728.6 405.6 L729.1 405.4 L729.5 405.3 L730 405.3 L730.4 405.3 L730.9 405.3 L731.3 405.4" fill="none" stroke="#161616" stroke-width="1.2" />
<line x1="822.5" y1="349" x2="749.5" y2="392.5" stroke="#161616" stroke-width="0.9" />
<path d="M749.5 392.5 L754.5 387.3 L756.5 390.5 Z" fill="#161616" stroke="none"/>
<path d="M832.5 375.4 L831.4 382.2 L835.3 377.3 L833.8 384.3 L837.9 379.6 L836 386.6 L840.2 382.2 L838 389.4 L842.3 385.2 L839.7 392.4 L844.1 388.6 L841.1 395.7 L845.6 392.2 L842.3 399.3 L846.8 396.2 L843.2 403.2 L847.7 400.4 L843.8 407.3 L848.3 404.9 L844.1 411.7 L848.5 409.7 L844.1 416.2 L848.5 414.6 L843.9 420.9 L848.1 419.8 L843.3 425.8 L847.5 425.1 L842.5 430.8 L846.5 430.5 L841.4 435.9 L845.2 436 L840 441 L843.7 441.6 L838.3 446.2 L841.8 447.2 L836.4 451.4 L839.7 452.9 L834.3 456.6 L837.3 458.5 L831.9 461.8 L834.7 464.1 L829.3 466.9 L831.8 469.5 L826.4 471.9 L828.7 474.9 L823.4 476.8 L825.4 480.2 L820.2 481.5 L821.9 485.2 L816.9 486.1 L818.2 490.1 L813.3 490.4 L814.4 494.8 L809.7 494.5 L810.4 499.2 L806 498.4 L806.4 503.3 L802.2 502.1 L802.2 507.2 L798.3 505.4 L798 510.7 L794.4 508.5 L793.8 514 L790.4 511.2 L789.5 516.8 L786.4 513.6 L785.2 519.3 L782.5 515.6 L781 521.5 L778.6 517.3 L776.8 523.2 L774.8 518.7 L772.6 524.6 L771 519.6 L768.6 525.5 L767.4 520.2 L764.7 526.1 L763.8 520.4 L760.9 526.2 L760.5 520.2 L757.3 525.9 L757.2 519.7 L753.8 525.2 L754.2 518.7 L750.6 524.1 L751.3 517.4 L747.5 522.6 L748.6 515.8 L744.7 520.7 L746.2 513.7 L742.1 518.4 L744 511.4 L739.8 515.8 L742 508.6 L737.7 512.8 L740.3 505.6 L735.9 509.4 L738.9 502.3 L734.4 505.8 L737.7 498.7 L733.2 501.8 L736.8 494.8 L732.3 497.6 L736.2 490.7 L731.7 493.1 L735.9 486.3 L731.5 488.3 L735.9 481.8 L731.5 483.4 L736.1 477.1 L731.9 478.2 L736.7 472.2 L732.5 472.9 L737.5 467.2 L733.5 467.5 L738.6 462.1 L734.8 462 L740 457 L736.3 456.4 L741.7 451.8 L738.2 450.8 L743.6 446.6 L740.3 445.1 L745.7 441.4 L742.7 439.5 L748.1 436.2 L745.3 433.9 L750.7 431.1 L748.2 428.5 L753.6 426.1 L751.3 423.1 L756.6 421.2 L754.6 417.8 L759.8 416.5 L758.1 412.8 L763.1 411.9 L761.8 407.9 L766.7 407.6 L765.6 403.2 L770.3 403.5 L769.6 398.8 L774 399.6 L773.6 394.7 L777.8 395.9 L777.8 390.8 L781.7 392.6 L782 387.3 L785.6 389.5 L786.2 384 L789.6 386.8 L790.5 381.2 L793.6 384.4 L794.8 378.7 L797.5 382.4 L799 376.5 L801.4 380.7 L803.2 374.8 L805.2 379.3 L807.4 373.4 L809 378.4 L811.4 372.5 L812.6 377.8 L815.3 371.9 L816.2 377.6 L819.1 371.8 L819.5 377.8 L822.7 372.1 L822.8 378.3 L826.2 372.8 L825.8 379.3 L829.4 373.9 L828.7 380.6 Z" fill="#fff" stroke="#161616" stroke-width="1.2" stroke-linejoin="miter"/>
<path d="M835.4 385.3 L836.8 387 L838.1 388.8 L839.3 390.8 L840.3 392.8 L841.3 395 L842.1 397.4 L842.8 399.8 L843.4 402.4 L843.8 405.1 L844.2 407.9 L844.4 410.7 L844.4 413.7 L844.4 416.7 L844.2 419.8 L843.9 423 L843.5 426.3 L843 429.5 L842.3 432.9 L841.5 436.3 L840.6 439.7 L839.6 443.1 L838.5 446.5 L837.3 450 L835.9 453.4 L834.4 456.9 L832.9 460.3 L831.2 463.7 L829.5 467 L827.6 470.3 L825.7 473.6 L823.7 476.8 L821.6 479.9 L819.4 483 L817.2 486 L814.9 488.9 L812.5 491.7 L810.1 494.5 L807.7 497.1 L805.2 499.6 L802.7 502" fill="none" stroke="#161616" stroke-width="1.1" />
<ellipse cx="790" cy="450" rx="6.5" ry="10" transform="rotate(20 790 450)" fill="none" stroke="#161616" stroke-width="1.5" />
<ellipse cx="815" cy="466" rx="14" ry="22" transform="rotate(16 815 466)" fill="#fff" stroke="#161616" stroke-width="1.8" />
<path d="M821 482.6 L819.8 483.1 L818.7 483.4 L817.5 483.6 L816.4 483.6 L815.3 483.3 L814.3 482.9 L813.3 482.4 L812.4 481.6 L811.6 480.8 L810.9 479.7 L810.3 478.5 L809.8 477.2 L809.4 475.8 L809.1 474.3 L808.9 472.7 L808.9 471 L809 469.3 L809.2 467.6 L809.5 465.8 L809.9 464.1 L810.5 462.4 L811.1 460.8 L811.8 459.2 L812.7 457.7 L813.6 456.3 L814.6 455.1 L815.6 453.9 L816.7 452.9 L817.9 452.1 L819 451.4 L820.2 450.9 L821.3 450.6 L822.5 450.4 L823.6 450.4 L824.7 450.7 L825.7 451.1 L826.7 451.6 L827.6 452.4 L828.4 453.2 L829.1 454.3" fill="none" stroke="#161616" stroke-width="1.6" />
<ellipse cx="822" cy="468" rx="8" ry="13" transform="rotate(16 822 468)" fill="none" stroke="#161616" stroke-width="1.2" />
<ellipse cx="821.5" cy="469" rx="2.6" ry="3.6" transform="rotate(16 821.5 469)" fill="none" stroke="#161616" stroke-width="1.1" />
<line x1="866" y1="370" x2="828" y2="394" stroke="#161616" stroke-width="0.9" />
<path d="M828 394 L832.9 388.7 L834.9 391.9 Z" fill="#161616" stroke="none"/>
<line x1="907.5" y1="397" x2="833" y2="442.5" stroke="#161616" stroke-width="0.9" />
<path d="M833 442.5 L838 437.2 L840 440.5 Z" fill="#161616" stroke="none"/>
<path d="M867.5 484 L939 442.5 L942.5 447.5 L944 490 L934 545 L894 569 L892.5 545 L872.5 557.5" fill="none" stroke="#161616" stroke-width="1.8" />
<line x1="869" y1="487" x2="937.5" y2="447" stroke="#161616" stroke-width="1.6" />
<line x1="872.5" y1="557.5" x2="894" y2="569" stroke="#161616" stroke-width="1.7" />
<path d="M872.5 557.5 Q850 572 826 582" fill="none" stroke="#161616" stroke-width="1.8" />
<path d="M817.5 514 Q820 521 828 521 Q848 516 857.5 499" fill="none" stroke="#161616" stroke-width="1.8" />
<path d="M834 521.5 Q850 514 855 501" fill="none" stroke="#161616" stroke-width="1.1" />
<path d="M817.5 514 L771 540" fill="none" stroke="#161616" stroke-width="2" />
<path d="M820 518 L774 546" fill="none" stroke="#161616" stroke-width="1.8" />
<path d="M778 538 L793 529.5 L794.5 532.5 L779.5 541 Z" fill="#333" stroke="#161616" stroke-width="0.9" />
<path d="M796 526 L798 530" fill="none" stroke="#161616" stroke-width="1.1" />
<path d="M746.5 532 L771 546.5 L768 561 L742 547 Z" fill="#fff" stroke="#161616" stroke-width="0" />
<path d="M722.5 523 L745 538" fill="none" stroke="#161616" stroke-width="2.1" />
<path d="M743 540 Q743 533 748 532.5 L771.5 546.5 M742 545.5 Q743 550 746 551.5 L766 562" fill="none" stroke="#161616" stroke-width="1.8" />
<ellipse cx="770" cy="554" rx="4.6" ry="7.5" transform="rotate(20 770 554)" fill="#fff" stroke="#161616" stroke-width="1.8" />
<ellipse cx="770.5" cy="554.5" rx="1.8" ry="2.8" transform="rotate(20 770.5 554.5)" fill="none" stroke="#161616" stroke-width="1.2" />
<path d="M748 548 Q775 578 812.5 584" fill="none" stroke="#161616" stroke-width="1.7" />
<path d="M774 560 Q790 576 815 580" fill="none" stroke="#161616" stroke-width="1.2" />
<line x1="790.2" y1="567.6" x2="819.7" y2="583.1" stroke="#161616" stroke-width="1.5" />
<line x1="792.8" y1="562.4" x2="822.3" y2="577.9" stroke="#161616" stroke-width="1.5" />
<ellipse cx="791.5" cy="565" rx="1.7" ry="2.9" transform="rotate(27.7 791.5 565)" fill="none" stroke="#161616" stroke-width="1.5" />
<path d="M797.1 564.6 L797.5 565.2 L797.8 566 L797.7 567 L797.3 568 L796.6 568.9 L795.8 569.6 L795.1 569.9 L794.4 569.8" fill="none" stroke="#161616" stroke-width="1.2" />
<path d="M801.3 566.9 L801.8 567.4 L802 568.2 L801.9 569.2 L801.5 570.2 L800.8 571.2 L800.1 571.8 L799.3 572.1 L798.6 572" fill="none" stroke="#161616" stroke-width="1.2" />
<path d="M805.5 569.1 L806 569.6 L806.2 570.4 L806.1 571.4 L805.7 572.5 L805 573.4 L804.3 574 L803.5 574.3 L802.8 574.2" fill="none" stroke="#161616" stroke-width="1.2" />
<path d="M809.7 571.3 L810.2 571.8 L810.4 572.6 L810.3 573.6 L809.9 574.7 L809.3 575.6 L808.5 576.2 L807.7 576.5 L807 576.4" fill="none" stroke="#161616" stroke-width="1.2" />
<path d="M813.9 573.5 L814.4 574 L814.6 574.8 L814.5 575.8 L814.1 576.9 L813.5 577.8 L812.7 578.5 L811.9 578.8 L811.2 578.6" fill="none" stroke="#161616" stroke-width="1.2" />
<path d="M818.1 575.7 L818.6 576.2 L818.8 577 L818.7 578.1 L818.3 579.1 L817.7 580 L816.9 580.7 L816.1 581 L815.4 580.9" fill="none" stroke="#161616" stroke-width="1.2" />
<path d="M822.3 577.9 L822.8 578.4 L823 579.3 L822.9 580.3 L822.5 581.3 L821.9 582.2 L821.1 582.9 L820.3 583.2 L819.7 583.1" fill="none" stroke="#161616" stroke-width="1.2" />
<ellipse cx="822.3" cy="581.2" rx="3.6" ry="5.8" transform="rotate(27.7 822.3 581.2)" fill="#fff" stroke="#161616" stroke-width="1.6" />
<line x1="772" y1="553" x2="791" y2="565" stroke="#161616" stroke-width="0.8" />
<ellipse cx="917.5" cy="467.5" rx="3.6" ry="6" transform="rotate(20 917.5 467.5)" fill="none" stroke="#161616" stroke-width="1.5" />
<ellipse cx="934" cy="459.5" rx="2.4" ry="3" transform="rotate(0 934 459.5)" fill="none" stroke="#161616" stroke-width="1.2" />
<line x1="902.5" y1="441" x2="922.5" y2="454.5" stroke="#161616" stroke-width="0.9" />
<path d="M922.5 454.5 L917.3 453.3 L919.4 450.1 Z" fill="#161616" stroke="none"/>
<line x1="858.6" y1="493" x2="882.6" y2="506.5" stroke="#161616" stroke-width="1.5" />
<line x1="861.4" y1="488" x2="885.4" y2="501.5" stroke="#161616" stroke-width="1.5" />
<ellipse cx="860" cy="490.5" rx="1.7" ry="2.9" transform="rotate(29.4 860 490.5)" fill="none" stroke="#161616" stroke-width="1.5" />
<path d="M864.8 489.9 L865.3 490.4 L865.4 491.2 L865.3 492.2 L864.9 493.2 L864.2 494.1 L863.4 494.8 L862.6 495.1 L861.9 494.9" fill="none" stroke="#161616" stroke-width="1.2" />
<path d="M868.1 491.8 L868.6 492.3 L868.8 493.1 L868.7 494.1 L868.2 495.1 L867.6 496 L866.8 496.7 L866 496.9 L865.3 496.8" fill="none" stroke="#161616" stroke-width="1.2" />
<path d="M871.5 493.6 L872 494.2 L872.2 495 L872 496 L871.6 497 L870.9 497.9 L870.1 498.6 L869.3 498.8 L868.7 498.7" fill="none" stroke="#161616" stroke-width="1.2" />
<path d="M874.9 495.5 L875.3 496.1 L875.5 496.9 L875.4 497.9 L875 498.9 L874.3 499.8 L873.5 500.5 L872.7 500.7 L872 500.6" fill="none" stroke="#161616" stroke-width="1.2" />
<path d="M878.2 497.4 L878.7 497.9 L878.9 498.8 L878.7 499.8 L878.3 500.8 L877.7 501.7 L876.9 502.3 L876.1 502.6 L875.4 502.5" fill="none" stroke="#161616" stroke-width="1.2" />
<path d="M883.1 501.8 L879 505.3 L873.4 504 L871.9 499.2 L876 495.7 L881.6 497 Z" fill="#fff" stroke="#161616" stroke-width="1.6" />
<ellipse cx="877.5" cy="500.5" rx="2.6" ry="2.3" transform="rotate(0 877.5 500.5)" fill="none" stroke="#161616" stroke-width="1.6" />
<line x1="886" y1="506" x2="955" y2="540" stroke="#161616" stroke-width="0.9" />
<line x1="893" y1="510" x2="886" y2="506.5" stroke="#161616" stroke-width="0.9" />
<path d="M886 506.5 L891.3 507.1 L889.7 510.3 Z" fill="#161616" stroke="none"/>
<line x1="894" y1="508" x2="892" y2="512" stroke="#161616" stroke-width="0.8" />
<line x1="892.2" y1="507.1" x2="890.2" y2="511.1" stroke="#161616" stroke-width="0.8" />
<line x1="890.4" y1="506.2" x2="888.4" y2="510.2" stroke="#161616" stroke-width="0.8" />
<line x1="936" y1="460.5" x2="954" y2="471" stroke="#161616" stroke-width="0.8" />
<line x1="952.7" y1="473.6" x2="982.7" y2="488.6" stroke="#161616" stroke-width="1.5" />
<line x1="955.3" y1="468.4" x2="985.3" y2="483.4" stroke="#161616" stroke-width="1.5" />
<ellipse cx="954" cy="471" rx="1.7" ry="2.9" transform="rotate(26.6 954 471)" fill="none" stroke="#161616" stroke-width="1.5" />
<path d="M959 470.3 L959.5 470.8 L959.8 471.6 L959.7 472.6 L959.3 473.7 L958.7 474.6 L957.9 475.3 L957.1 475.6 L956.5 475.5" fill="none" stroke="#161616" stroke-width="1.2" />
<path d="M962.8 472.2 L963.3 472.7 L963.5 473.5 L963.4 474.5 L963.1 475.5 L962.4 476.5 L961.7 477.1 L960.9 477.4 L960.2 477.3" fill="none" stroke="#161616" stroke-width="1.2" />
<path d="M966.5 474 L967 474.5 L967.3 475.3 L967.2 476.4 L966.8 477.4 L966.2 478.3 L965.4 479 L964.6 479.3 L964 479.2" fill="none" stroke="#161616" stroke-width="1.2" />
<path d="M970.3 475.9 L970.8 476.4 L971 477.2 L970.9 478.2 L970.6 479.3 L969.9 480.2 L969.2 480.9 L968.4 481.2 L967.7 481.1" fill="none" stroke="#161616" stroke-width="1.2" />
<path d="M974 477.8 L974.5 478.3 L974.8 479.1 L974.7 480.1 L974.3 481.2 L973.7 482.1 L972.9 482.8 L972.1 483.1 L971.5 483" fill="none" stroke="#161616" stroke-width="1.2" />
<path d="M977.8 479.7 L978.3 480.2 L978.5 481 L978.4 482 L978.1 483 L977.4 484 L976.7 484.6 L975.9 484.9 L975.2 484.8" fill="none" stroke="#161616" stroke-width="1.2" />
<ellipse cx="985.3" cy="486.7" rx="3.6" ry="5.8" transform="rotate(26.6 985.3 486.7)" fill="#fff" stroke="#161616" stroke-width="1.6" />
<line x1="1000" y1="459" x2="975.5" y2="472.5" stroke="#161616" stroke-width="0.9" />
<path d="M975.5 472.5 L980.7 467.5 L982.5 470.8 Z" fill="#161616" stroke="none"/>
<line x1="910" y1="630" x2="910" y2="563" stroke="#161616" stroke-width="0.8" />
<path d="M910 562 L911.9 568 L908.1 568 Z" fill="#161616" stroke="none"/>
<path d="M509 417 Q488 437 474 456.5 Q462 474 453 490" fill="none" stroke="#161616" stroke-width="2.3" />
<path d="M455 490 L452.5 496 L510 520.5 L513 515" fill="none" stroke="#161616" stroke-width="1.8" />
<path d="M511 521 L522.5 571 L521 595" fill="none" stroke="#161616" stroke-width="1.6" />
<path d="M513.9 520.3 L525.5 570.6 L524 595.2" fill="none" stroke="#161616" stroke-width="1.2" />
<path d="M466 561 L521 595" fill="none" stroke="#161616" stroke-width="1.8" />
<path d="M521 595 Q545 594 567.5 587.5" fill="none" stroke="#161616" stroke-width="1.8" />
<path d="M515 592 Q517 586 523 588" fill="none" stroke="#161616" stroke-width="1" />
<path d="M526 408.5 L534.6 404.7" fill="none" stroke="#161616" stroke-width="1.8" />
<path d="M534.6 404.7 L587.8 436" fill="none" stroke="#161616" stroke-width="2.3" />
<path d="M587.8 436 Q612 446.5 633.7 434.5" fill="none" stroke="#161616" stroke-width="2.1" />
<path d="M580.6 404 L633.7 433.7 L640.2 469" fill="none" stroke="#161616" stroke-width="2" />
<path d="M585.4 443.3 Q605 450.5 622.5 446.6 L628.9 449.8 L633.7 467.5" fill="none" stroke="#161616" stroke-width="1.1" />
<path d="M640.2 469 L645 467 Q647 472 650 472.5 Q670 478 689.5 465.5" fill="none" stroke="#161616" stroke-width="2" />
<path d="M644 468 L648 480" fill="none" stroke="#161616" stroke-width="1.6" />
<path d="M587.8 436 Q553 458 527 496.5" fill="none" stroke="#161616" stroke-width="2.1" />
<path d="M583.8 443.3 Q556 464 532.5 498" fill="none" stroke="#161616" stroke-width="1.8" />
<path d="M620 481 Q595 500 584 525" fill="none" stroke="#161616" stroke-width="1.7" />
<line x1="455" y1="420" x2="487.5" y2="437.5" stroke="#161616" stroke-width="0.9" />
<line x1="462.5" y1="425" x2="487.5" y2="437.5" stroke="#161616" stroke-width="0.9" />
<line x1="464" y1="472.5" x2="512.5" y2="500" stroke="#161616" stroke-width="0.9" />
<line x1="520" y1="456" x2="562.5" y2="480.5" stroke="#161616" stroke-width="0.9" />
<line x1="537.9" y1="420.8" x2="646.6" y2="485.2" stroke="#161616" stroke-width="1.6" />
<line x1="537" y1="428" x2="645" y2="490.2" stroke="#161616" stroke-width="1.6" />
<line x1="660" y1="494" x2="740" y2="545" stroke="#161616" stroke-width="0.8" />
<line x1="740" y1="545" x2="740" y2="624" stroke="#161616" stroke-width="0.8" stroke-dasharray="5 1.5"/>
<line x1="740" y1="622" x2="732.5" y2="636" stroke="#161616" stroke-width="0.9" />
<path d="M732.5 636 L734.1 628.9 L737.5 630.7 Z" fill="#161616" stroke="none"/>
<line x1="700" y1="522" x2="722" y2="536" stroke="#161616" stroke-width="0.8" />
<ellipse cx="483" cy="455.5" rx="2.6" ry="5.8" transform="rotate(-30.1 483 455.5)" fill="none" stroke="#161616" stroke-width="1.8" />
<ellipse cx="486.8" cy="453.3" rx="2.6" ry="5.8" transform="rotate(-30.1 486.8 453.3)" fill="none" stroke="#161616" stroke-width="1.8" />
<ellipse cx="490.7" cy="451" rx="2.6" ry="5.8" transform="rotate(-30.1 490.7 451)" fill="none" stroke="#161616" stroke-width="1.8" />
<ellipse cx="494.5" cy="448.8" rx="2.6" ry="5.8" transform="rotate(-30.1 494.5 448.8)" fill="none" stroke="#161616" stroke-width="1.8" />
<ellipse cx="498.4" cy="446.6" rx="2.6" ry="5.8" transform="rotate(-30.1 498.4 446.6)" fill="none" stroke="#161616" stroke-width="1.8" />
<ellipse cx="502.2" cy="444.3" rx="2.6" ry="5.8" transform="rotate(-30.1 502.2 444.3)" fill="none" stroke="#161616" stroke-width="1.8" />
<ellipse cx="506.1" cy="442.1" rx="2.6" ry="5.8" transform="rotate(-30.1 506.1 442.1)" fill="none" stroke="#161616" stroke-width="1.8" />
<ellipse cx="509.9" cy="439.9" rx="2.6" ry="5.8" transform="rotate(-30.1 509.9 439.9)" fill="none" stroke="#161616" stroke-width="1.8" />
<ellipse cx="513.8" cy="437.7" rx="2.6" ry="5.8" transform="rotate(-30.1 513.8 437.7)" fill="none" stroke="#161616" stroke-width="1.8" />
<ellipse cx="517.6" cy="435.4" rx="2.6" ry="5.8" transform="rotate(-30.1 517.6 435.4)" fill="none" stroke="#161616" stroke-width="1.8" />
<ellipse cx="521.5" cy="433.2" rx="2.6" ry="5.8" transform="rotate(-30.1 521.5 433.2)" fill="none" stroke="#161616" stroke-width="1.8" />
<ellipse cx="525.3" cy="431" rx="2.6" ry="5.8" transform="rotate(-30.1 525.3 431)" fill="none" stroke="#161616" stroke-width="1.8" />
<ellipse cx="529.2" cy="428.7" rx="2.6" ry="5.8" transform="rotate(-30.1 529.2 428.7)" fill="none" stroke="#161616" stroke-width="1.8" />
<ellipse cx="533" cy="426.5" rx="2.6" ry="5.8" transform="rotate(-30.1 533 426.5)" fill="none" stroke="#161616" stroke-width="1.8" />
<path d="M470 462 Q474 452 484 452 M470 462 Q478 464 486 459" fill="none" stroke="#161616" stroke-width="1.5" />
<ellipse cx="594" cy="517.5" rx="2.6" ry="5.8" transform="rotate(-29.2 594 517.5)" fill="none" stroke="#161616" stroke-width="1.8" />
<ellipse cx="597.8" cy="515.3" rx="2.6" ry="5.8" transform="rotate(-29.2 597.8 515.3)" fill="none" stroke="#161616" stroke-width="1.8" />
<ellipse cx="601.7" cy="513.2" rx="2.6" ry="5.8" transform="rotate(-29.2 601.7 513.2)" fill="none" stroke="#161616" stroke-width="1.8" />
<ellipse cx="605.5" cy="511" rx="2.6" ry="5.8" transform="rotate(-29.2 605.5 511)" fill="none" stroke="#161616" stroke-width="1.8" />
<ellipse cx="609.4" cy="508.9" rx="2.6" ry="5.8" transform="rotate(-29.2 609.4 508.9)" fill="none" stroke="#161616" stroke-width="1.8" />
<ellipse cx="613.2" cy="506.7" rx="2.6" ry="5.8" transform="rotate(-29.2 613.2 506.7)" fill="none" stroke="#161616" stroke-width="1.8" />
<ellipse cx="617.1" cy="504.6" rx="2.6" ry="5.8" transform="rotate(-29.2 617.1 504.6)" fill="none" stroke="#161616" stroke-width="1.8" />
<ellipse cx="620.9" cy="502.4" rx="2.6" ry="5.8" transform="rotate(-29.2 620.9 502.4)" fill="none" stroke="#161616" stroke-width="1.8" />
<ellipse cx="624.8" cy="500.3" rx="2.6" ry="5.8" transform="rotate(-29.2 624.8 500.3)" fill="none" stroke="#161616" stroke-width="1.8" />
<ellipse cx="628.6" cy="498.1" rx="2.6" ry="5.8" transform="rotate(-29.2 628.6 498.1)" fill="none" stroke="#161616" stroke-width="1.8" />
<ellipse cx="632.5" cy="496" rx="2.6" ry="5.8" transform="rotate(-29.2 632.5 496)" fill="none" stroke="#161616" stroke-width="1.8" />
<ellipse cx="636.3" cy="493.8" rx="2.6" ry="5.8" transform="rotate(-29.2 636.3 493.8)" fill="none" stroke="#161616" stroke-width="1.8" />
<ellipse cx="640.2" cy="491.7" rx="2.6" ry="5.8" transform="rotate(-29.2 640.2 491.7)" fill="none" stroke="#161616" stroke-width="1.8" />
<ellipse cx="644" cy="489.5" rx="2.6" ry="5.8" transform="rotate(-29.2 644 489.5)" fill="none" stroke="#161616" stroke-width="1.8" />
<path d="M582 525 Q586 514 596 514 M582 525 Q590 526 598 521" fill="none" stroke="#161616" stroke-width="1.5" />
<path d="M534 425 L538 419 M537 424 L542 416" fill="none" stroke="#161616" stroke-width="1.5" />
<ellipse cx="511.7" cy="409.6" rx="6.1" ry="7.6" transform="rotate(20 511.7 409.6)" fill="#fff" stroke="#161616" stroke-width="1.8" />
<path d="M509.1 416.7 L515.2 418.9 L520.4 404.7 L514.3 402.4 Z" fill="#fff" stroke="#161616" stroke-width="0" />
<line x1="509.1" y1="416.7" x2="515.2" y2="418.9" stroke="#161616" stroke-width="1.8" />
<line x1="514.3" y1="402.4" x2="520.4" y2="404.7" stroke="#161616" stroke-width="1.8" />
<ellipse cx="517.8" cy="411.8" rx="6.1" ry="7.6" transform="rotate(20 517.8 411.8)" fill="#fff" stroke="#161616" stroke-width="1.8" />
<ellipse cx="518.1" cy="412.1" rx="2.4" ry="3.2" transform="rotate(20 518.1 412.1)" fill="none" stroke="#161616" stroke-width="1.2" />
<ellipse cx="518.1" cy="412.1" rx="0.8" ry="1.1" transform="rotate(20 518.1 412.1)" fill="none" stroke="#161616" stroke-width="1" />
<ellipse cx="445.2" cy="433.5" rx="6.2" ry="7.8" transform="rotate(20 445.2 433.5)" fill="#fff" stroke="#161616" stroke-width="1.8" />
<path d="M442.6 440.8 L454.3 446.3 L459.7 431.7 L447.9 426.2 Z" fill="#fff" stroke="#161616" stroke-width="0" />
<line x1="442.6" y1="440.8" x2="454.3" y2="446.3" stroke="#161616" stroke-width="1.8" />
<line x1="447.9" y1="426.2" x2="459.7" y2="431.7" stroke="#161616" stroke-width="1.8" />
<ellipse cx="457" cy="439" rx="6.2" ry="7.8" transform="rotate(20 457 439)" fill="#fff" stroke="#161616" stroke-width="1.8" />
<ellipse cx="457.3" cy="439.3" rx="2.5" ry="3.3" transform="rotate(20 457.3 439.3)" fill="none" stroke="#161616" stroke-width="1.2" />
<ellipse cx="457.3" cy="439.3" rx="0.8" ry="1.1" transform="rotate(20 457.3 439.3)" fill="none" stroke="#161616" stroke-width="1" />
<line x1="511.3" y1="502.2" x2="596.8" y2="549.2" stroke="#161616" stroke-width="1.5" />
<line x1="513.7" y1="497.8" x2="599.2" y2="544.8" stroke="#161616" stroke-width="1.5" />
<ellipse cx="512.5" cy="500" rx="1.5" ry="2.5" transform="rotate(28.8 512.5 500)" fill="none" stroke="#161616" stroke-width="1.5" />
<path d="M518.3 500.3 L518.7 500.8 L518.8 501.5 L518.7 502.3 L518.4 503.2 L517.8 504 L517.1 504.6 L516.5 504.8 L515.9 504.7" fill="none" stroke="#161616" stroke-width="1.2" />
<path d="M522.8 502.8 L523.2 503.3 L523.4 504 L523.3 504.8 L522.9 505.7 L522.4 506.5 L521.7 507.1 L521 507.3 L520.4 507.2" fill="none" stroke="#161616" stroke-width="1.2" />
<path d="M527.4 505.3 L527.8 505.8 L528 506.5 L527.9 507.3 L527.5 508.2 L526.9 509 L526.3 509.6 L525.6 509.8 L525 509.7" fill="none" stroke="#161616" stroke-width="1.2" />
<path d="M531.9 507.8 L532.4 508.3 L532.5 509 L532.4 509.9 L532.1 510.7 L531.5 511.5 L530.8 512.1 L530.1 512.3 L529.5 512.2" fill="none" stroke="#161616" stroke-width="1.2" />
<path d="M536.5 510.3 L536.9 510.8 L537.1 511.5 L537 512.4 L536.6 513.3 L536.1 514 L535.4 514.6 L534.7 514.8 L534.1 514.7" fill="none" stroke="#161616" stroke-width="1.2" />
<path d="M541.1 512.8 L541.5 513.3 L541.6 514 L541.5 514.9 L541.2 515.8 L540.6 516.5 L539.9 517.1 L539.3 517.3 L538.7 517.2" fill="none" stroke="#161616" stroke-width="1.2" />
<ellipse cx="599.3" cy="547.7" rx="3.1" ry="5" transform="rotate(28.8 599.3 547.7)" fill="#fff" stroke="#161616" stroke-width="1.6" />
<line x1="561.4" y1="483.2" x2="600.9" y2="502.7" stroke="#161616" stroke-width="1.2" />
<line x1="563.6" y1="478.8" x2="603.1" y2="498.3" stroke="#161616" stroke-width="1.2" />
<ellipse cx="562.5" cy="481" rx="1.4" ry="2.4" transform="rotate(26.3 562.5 481)" fill="none" stroke="#161616" stroke-width="1.2" />
<path d="M568 481 L568.4 481.4 L568.6 482.1 L568.5 483 L568.2 483.8 L567.7 484.6 L567.1 485.2 L566.5 485.4 L565.9 485.3" fill="none" stroke="#161616" stroke-width="1.2" />
<path d="M572.4 483.2 L572.9 483.6 L573.1 484.3 L573 485.2 L572.7 486 L572.2 486.8 L571.5 487.4 L570.9 487.6 L570.3 487.5" fill="none" stroke="#161616" stroke-width="1.2" />
<path d="M576.9 485.4 L577.3 485.8 L577.5 486.5 L577.4 487.3 L577.1 488.2 L576.6 489 L576 489.6 L575.3 489.8 L574.8 489.7" fill="none" stroke="#161616" stroke-width="1.2" />
<path d="M581.3 487.6 L581.8 488 L581.9 488.7 L581.9 489.5 L581.6 490.4 L581.1 491.2 L580.4 491.7 L579.8 492 L579.2 491.9" fill="none" stroke="#161616" stroke-width="1.2" />
<path d="M585.8 489.8 L586.2 490.2 L586.4 490.9 L586.3 491.7 L586 492.6 L585.5 493.4 L584.9 493.9 L584.2 494.2 L583.7 494.1" fill="none" stroke="#161616" stroke-width="1.2" />
<path d="M590.2 492 L590.6 492.4 L590.8 493.1 L590.8 493.9 L590.5 494.8 L589.9 495.6 L589.3 496.1 L588.7 496.4 L588.1 496.3" fill="none" stroke="#161616" stroke-width="1.2" />
<path d="M594.7 494.2 L595.1 494.6 L595.3 495.3 L595.2 496.1 L594.9 497 L594.4 497.8 L593.8 498.3 L593.1 498.6 L592.5 498.5" fill="none" stroke="#161616" stroke-width="1.2" />
<path d="M599.1 496.4 L599.5 496.8 L599.7 497.5 L599.6 498.3 L599.3 499.2 L598.8 500 L598.2 500.5 L597.6 500.8 L597 500.7" fill="none" stroke="#161616" stroke-width="1.2" />
<ellipse cx="650.5" cy="489.3" rx="3.2" ry="5" transform="rotate(25 650.5 489.3)" fill="#fff" stroke="#161616" stroke-width="1.7" />
<ellipse cx="647" cy="487.5" rx="3.2" ry="5" transform="rotate(25 647 487.5)" fill="#fff" stroke="#161616" stroke-width="1.5" />
<line x1="499" y1="630" x2="499" y2="460" stroke="#161616" stroke-width="0.8" />
<path d="M499 459 L500.9 465 L497.1 465 Z" fill="#161616" stroke="none"/>
<line x1="692" y1="432" x2="692" y2="406" stroke="#161616" stroke-width="0.8" />
<path d="M566 555 L577.5 626 L589 622 L610 565 Z" fill="#fff" stroke="#161616" stroke-width="0" />
<path d="M566 555 L577.5 626" fill="none" stroke="#161616" stroke-width="1.8" />
<path d="M571 553 L610 565 L650 521" fill="none" stroke="#161616" stroke-width="1.8" />
<path d="M610 565 L621 607" fill="none" stroke="#161616" stroke-width="1.7" />
<path d="M589 621 Q620 598 647.5 606 M589 623.5 Q622 622 647.5 606" fill="none" stroke="#161616" stroke-width="1.6" />
<ellipse cx="654" cy="562" rx="48" ry="32.5" transform="rotate(-62 654 562)" fill="#fff" stroke="#161616" stroke-width="2.1" />
<ellipse cx="657.5" cy="560.5" rx="46" ry="30.5" transform="rotate(-62 657.5 560.5)" fill="#fff" stroke="#161616" stroke-width="2.4" />
<ellipse cx="658.5" cy="560.5" rx="40.5" ry="25.5" transform="rotate(-62 658.5 560.5)" fill="none" stroke="#161616" stroke-width="2.2" />
<path d="M650.5 534 L650.5 590" fill="none" stroke="#161616" stroke-width="1.8" />
<path d="M656.5 531 L656.5 589" fill="none" stroke="#161616" stroke-width="1.8" />
<path d="M636 565 L680 542" fill="none" stroke="#161616" stroke-width="1.8" />
<path d="M637.5 570 L681 547.5" fill="none" stroke="#161616" stroke-width="1.8" />
<line x1="650" y1="632" x2="650" y2="607" stroke="#161616" stroke-width="0.8" />
<path d="M650 606 L651.9 612 L648.1 612 Z" fill="#161616" stroke="none"/>
<path d="M690 480 L701 540" fill="none" stroke="#161616" stroke-width="1.6" />
<path d="M696 478 L707 538" fill="none" stroke="#161616" stroke-width="1.6" />
<path d="M686 476 L661 520" fill="none" stroke="#161616" stroke-width="1.5" />
<ellipse cx="687.8" cy="474.5" rx="4.5" ry="5.6" transform="rotate(20 687.8 474.5)" fill="#fff" stroke="#161616" stroke-width="1.8" />
<path d="M685.9 479.8 L691.1 482.8 L694.9 472.2 L689.7 469.2 Z" fill="#fff" stroke="#161616" stroke-width="0" />
<line x1="685.9" y1="479.8" x2="691.1" y2="482.8" stroke="#161616" stroke-width="1.8" />
<line x1="689.7" y1="469.2" x2="694.9" y2="472.2" stroke="#161616" stroke-width="1.8" />
<ellipse cx="693" cy="477.5" rx="4.5" ry="5.6" transform="rotate(20 693 477.5)" fill="#fff" stroke="#161616" stroke-width="1.8" />
<ellipse cx="693.3" cy="477.8" rx="1.8" ry="2.4" transform="rotate(20 693.3 477.8)" fill="none" stroke="#161616" stroke-width="1.2" />
<ellipse cx="693.3" cy="477.8" rx="0.6" ry="0.8" transform="rotate(20 693.3 477.8)" fill="none" stroke="#161616" stroke-width="1" />
<ellipse cx="699.3" cy="539.5" rx="4.5" ry="5.6" transform="rotate(20 699.3 539.5)" fill="#fff" stroke="#161616" stroke-width="1.8" />
<path d="M697.4 544.8 L702.6 547.8 L706.4 537.2 L701.2 534.2 Z" fill="#fff" stroke="#161616" stroke-width="0" />
<line x1="697.4" y1="544.8" x2="702.6" y2="547.8" stroke="#161616" stroke-width="1.8" />
<line x1="701.2" y1="534.2" x2="706.4" y2="537.2" stroke="#161616" stroke-width="1.8" />
<ellipse cx="704.5" cy="542.5" rx="4.5" ry="5.6" transform="rotate(20 704.5 542.5)" fill="#fff" stroke="#161616" stroke-width="1.8" />
<ellipse cx="704.8" cy="542.8" rx="1.8" ry="2.4" transform="rotate(20 704.8 542.8)" fill="none" stroke="#161616" stroke-width="1.2" />
<ellipse cx="704.8" cy="542.8" rx="0.6" ry="0.8" transform="rotate(20 704.8 542.8)" fill="none" stroke="#161616" stroke-width="1" />
<ellipse cx="569.8" cy="553" rx="4.5" ry="5.6" transform="rotate(20 569.8 553)" fill="#fff" stroke="#161616" stroke-width="1.8" />
<path d="M567.9 558.3 L573.1 561.3 L576.9 550.7 L571.7 547.7 Z" fill="#fff" stroke="#161616" stroke-width="0" />
<line x1="567.9" y1="558.3" x2="573.1" y2="561.3" stroke="#161616" stroke-width="1.8" />
<line x1="571.7" y1="547.7" x2="576.9" y2="550.7" stroke="#161616" stroke-width="1.8" />
<ellipse cx="575" cy="556" rx="4.5" ry="5.6" transform="rotate(20 575 556)" fill="#fff" stroke="#161616" stroke-width="1.8" />
<ellipse cx="575.3" cy="556.3" rx="1.8" ry="2.4" transform="rotate(20 575.3 556.3)" fill="none" stroke="#161616" stroke-width="1.2" />
<ellipse cx="575.3" cy="556.3" rx="0.6" ry="0.8" transform="rotate(20 575.3 556.3)" fill="none" stroke="#161616" stroke-width="1" />
<ellipse cx="583.8" cy="619.5" rx="4.5" ry="5.6" transform="rotate(20 583.8 619.5)" fill="#fff" stroke="#161616" stroke-width="1.8" />
<path d="M581.9 624.8 L587.1 627.8 L590.9 617.2 L585.7 614.2 Z" fill="#fff" stroke="#161616" stroke-width="0" />
<line x1="581.9" y1="624.8" x2="587.1" y2="627.8" stroke="#161616" stroke-width="1.8" />
<line x1="585.7" y1="614.2" x2="590.9" y2="617.2" stroke="#161616" stroke-width="1.8" />
<ellipse cx="589" cy="622.5" rx="4.5" ry="5.6" transform="rotate(20 589 622.5)" fill="#fff" stroke="#161616" stroke-width="1.8" />
<ellipse cx="589.3" cy="622.8" rx="1.8" ry="2.4" transform="rotate(20 589.3 622.8)" fill="none" stroke="#161616" stroke-width="1.2" />
<ellipse cx="589.3" cy="622.8" rx="0.6" ry="0.8" transform="rotate(20 589.3 622.8)" fill="none" stroke="#161616" stroke-width="1" />
<line x1="622.5" y1="517.5" x2="645" y2="529" stroke="#161616" stroke-width="1.5" />
<line x1="620" y1="521" x2="643" y2="532.5" stroke="#161616" stroke-width="1.5" />
<ellipse cx="647.5" cy="529.5" rx="3.6" ry="5" transform="rotate(20 647.5 529.5)" fill="#fff" stroke="#161616" stroke-width="1.6" />
<defs><pattern id="mesh" width="2.6" height="2.6" patternUnits="userSpaceOnUse" patternTransform="rotate(8)"><rect width="2.6" height="2.6" fill="#fff"/><path d="M0 0H2.6M0 0V2.6" stroke="#111" stroke-width="1.5"/></pattern></defs>
<ellipse cx="708.5" cy="587.5" rx="42" ry="21.5" transform="rotate(-57 708.5 587.5)" fill="url(#mesh)" stroke="#161616" stroke-width="1.7" />
<defs><linearGradient id="mg" x1="0" y1="0" x2="1" y2="1"><stop offset="0.2" stop-color="#000" stop-opacity="0"/><stop offset="1" stop-color="#000" stop-opacity="0.45"/></linearGradient></defs>
<ellipse cx="708.5" cy="587.5" rx="42" ry="21.5" transform="rotate(-57 708.5 587.5)" fill="url(#mg)" stroke="#161616" stroke-width="0" />
<line x1="682.5" y1="635" x2="682.5" y2="621" stroke="#161616" stroke-width="0.8" />
<path d="M682.5 620 L684.4 626 L680.6 626 Z" fill="#161616" stroke="none"/>
<line x1="624.9" y1="639.4" x2="613.4" y2="632.9" stroke="#161616" stroke-width="1.1" />
<line x1="623.1" y1="642.6" x2="611.6" y2="636.1" stroke="#161616" stroke-width="1.1" />
<ellipse cx="624" cy="641" rx="1.1" ry="1.8" transform="rotate(-150.5 624 641)" fill="none" stroke="#161616" stroke-width="1.1" />
<path d="M620 640.8 L619.8 640.5 L619.6 640 L619.7 639.4 L620 638.7 L620.4 638.2 L620.9 637.8 L621.4 637.6 L621.8 637.7" fill="none" stroke="#161616" stroke-width="1.2" />
<path d="M617 639.1 L616.7 638.8 L616.6 638.3 L616.7 637.6 L616.9 637 L617.3 636.4 L617.8 636 L618.3 635.9 L618.8 636" fill="none" stroke="#161616" stroke-width="1.2" />
<path d="M613.9 637.4 L613.6 637 L613.5 636.5 L613.6 635.9 L613.9 635.3 L614.3 634.7 L614.8 634.3 L615.3 634.1 L615.7 634.2" fill="none" stroke="#161616" stroke-width="1.2" />
<ellipse cx="624.5" cy="641.5" rx="2.4" ry="3.4" transform="rotate(25 624.5 641.5)" fill="#fff" stroke="#161616" stroke-width="1.2" />
<line x1="600" y1="643" x2="611" y2="640" stroke="#161616" stroke-width="0.9" />
<path d="M611 640 L606.6 643.1 L605.7 639.6 Z" fill="#161616" stroke="none"/>
<line x1="600.6" y1="645.1" x2="599.4" y2="640.9" stroke="#161616" stroke-width="0.8" />
<line x1="602.5" y1="644.6" x2="601.4" y2="640.4" stroke="#161616" stroke-width="0.8" />
<line x1="604.4" y1="644.1" x2="603.3" y2="639.8" stroke="#161616" stroke-width="0.8" />
<line x1="590" y1="624" x2="612" y2="635" stroke="#161616" stroke-width="0.8" />
<path d="M806.8 627.5 L806.1 630.6 L805.2 633.7 L804.1 636.7 L802.8 639.7 L801.4 642.7 L799.8 645.5 L798 648.2 L796.1 650.8 L794.1 653.3 L792 655.5 L789.8 657.6 L787.5 659.5 L785.1 661.1 L782.7 662.5 L780.3 663.7 L777.9 664.6 L775.5 665.2 L773.2 665.6 L770.9 665.7 L768.7 665.6 L766.6 665.1 L764.6 664.4 L762.7 663.5 L760.9 662.2 L759.3 660.8 L757.9 659.1 L756.6 657.2 L755.6 655.1 L754.7 652.7 L754 650.3 L753.5 647.6 L753.3 644.9 L753.2 642 L753.4 639.1 L753.8 636.1 L754.3 633 L755.1 629.9 L756.1 626.9 L757.3 623.8 L758.6 620.9 L760.2 618 L761.8 615.2 L763.7 612.5 L765.6 610 L767.7 607.6 L769.9 605.5 L772.1 603.5 L774.4 601.7 L776.8 600.2 L779.2 598.9 L781.6 597.9 L784 597.1 L786.4 596.6 L788.7 596.3 L790.9 596.3 L793.1 596.6 L795.2 597.2 L797.1 598 L799 599.1 L800.7 600.4" fill="none" stroke="#161616" stroke-width="2.3" />
<path d="M800.5 602 Q803.5 606 802 609 L799 611" fill="none" stroke="#161616" stroke-width="2.3" />
<path d="M804.5 630.5 Q803 627.5 798 627" fill="none" stroke="#161616" stroke-width="2.3" />
<line x1="816" y1="649.5" x2="797.5" y2="651" stroke="#161616" stroke-width="0.9" />
<path d="M797.5 651 L805.3 648.5 L805.6 652.2 Z" fill="#161616" stroke="none"/>
<path d="M264 415 L265 413 L275 413 L276 415 L276 468 L264 462 Z" fill="#fff" stroke="#161616" stroke-width="1.6" />
<path d="M276 415 L282 411.5 L285 414 L285 468 L279 471 L276 468" fill="none" stroke="#161616" stroke-width="1.5" />
<ellipse cx="273" cy="432.5" rx="1.8" ry="2.6" transform="rotate(0 273 432.5)" fill="none" stroke="#161616" stroke-width="1.1" />
<ellipse cx="274" cy="454" rx="1.8" ry="2.6" transform="rotate(0 274 454)" fill="none" stroke="#161616" stroke-width="1.1" />
<line x1="285" y1="426" x2="291" y2="422.5" stroke="#161616" stroke-width="0.9" />
<line x1="285" y1="447" x2="292" y2="443.5" stroke="#161616" stroke-width="0.9" />
<path d="M112 361 L113 357 L121 354 L125 355 L139 364 L149 399 L209 436 L236 421 L261 435 L272.5 452.5" fill="none" stroke="#161616" stroke-width="2.4" />
<path d="M115 361 L121 358 L135.8 366.5 L145.8 401.5 L209 440.5 L236 425.5 L257.5 438.5 L267 452" fill="none" stroke="#161616" stroke-width="1.7" />
<path d="M112 361 Q113 385 116.5 400 Q124 420 127.5 440 L127.5 478 Q129 492 143 501 L170 519 L200 552 M222 573 Q240 590 262 601 Q285 612 305 616.5 L329 615" fill="none" stroke="#161616" stroke-width="2" />
<path d="M270.5 456 L270.5 541 Q272 555 284 561 L326 588 Q338 597 336.5 606 Q335 613 329 615" fill="none" stroke="#161616" stroke-width="2" />
<path d="M274.5 458 L274.5 540 Q276 552 287 558 L328 584.5 Q341 594 340 606 Q338 615 330 617.5" fill="none" stroke="#161616" stroke-width="1.6" />
<path d="M261 435 L272.5 452.5 L275 458" fill="none" stroke="#161616" stroke-width="2.2" />
<ellipse cx="273.5" cy="455.5" rx="2.2" ry="3" transform="rotate(0 273.5 455.5)" fill="#161616" stroke="#161616" stroke-width="1.5" />
<path d="M290 393.5 L300 402 L309.5 399.5 L315 389.5 L308 383" fill="#fff" stroke="#161616" stroke-width="1.7" />
<path d="M270 384.5 L287 374.8 L296 380.5 L279 390 Z" fill="#fff" stroke="#161616" stroke-width="1.7" />
<path d="M270 384.5 L271 390.5 L279 396.5 L306.5 380.5 L305 375.5 L279 390 L279 396.5" fill="none" stroke="#161616" stroke-width="1.7" />
<ellipse cx="283" cy="382" rx="2.4" ry="1.8" transform="rotate(0 283 382)" fill="none" stroke="#161616" stroke-width="1.1" />
<ellipse cx="304" cy="394.5" rx="2.6" ry="2" transform="rotate(0 304 394.5)" fill="none" stroke="#161616" stroke-width="1.1" />
<path d="M274 399.5 L273.5 406 L279 406 L279 402.5 L287 401 L287.5 399" fill="none" stroke="#161616" stroke-width="1.1" />
<path d="M287.3 509.6 L283.8 512.6 L279 511.5 L277.7 507.4 L281.2 504.4 L286 505.5 Z" fill="#fff" stroke="#161616" stroke-width="1.2" />
<ellipse cx="282.5" cy="508.5" rx="2.2" ry="2" transform="rotate(0 282.5 508.5)" fill="none" stroke="#161616" stroke-width="1.2" />
<path d="M308.3 521.6 L304.8 524.6 L300 523.5 L298.7 519.4 L302.2 516.4 L307 517.5 Z" fill="#fff" stroke="#161616" stroke-width="1.2" />
<ellipse cx="303.5" cy="520.5" rx="2.2" ry="2" transform="rotate(0 303.5 520.5)" fill="none" stroke="#161616" stroke-width="1.2" />
<line x1="304" y1="400" x2="304" y2="515" stroke="#161616" stroke-width="0.8" stroke-dasharray="6 1.5"/>
<path d="M213 469 Q210 464 214 461 L223 459 L225 465 Z" fill="#fff" stroke="#161616" stroke-width="1.5" />
<ellipse cx="215" cy="465" rx="2.2" ry="4.2" transform="rotate(-20 215 465)" fill="none" stroke="#161616" stroke-width="1.1" />
<path d="M213 490 Q210 485 214 482 L223 480 L225 486 Z" fill="#fff" stroke="#161616" stroke-width="1.5" />
<ellipse cx="215" cy="486" rx="2.2" ry="4.2" transform="rotate(-20 215 486)" fill="none" stroke="#161616" stroke-width="1.1" />
<line x1="225" y1="461" x2="250" y2="447" stroke="#161616" stroke-width="0.9" />
<line x1="225" y1="482" x2="252" y2="467.5" stroke="#161616" stroke-width="0.9" />
<ellipse cx="252.5" cy="445.5" rx="2.6" ry="2" transform="rotate(0 252.5 445.5)" fill="none" stroke="#161616" stroke-width="1.1" />
<ellipse cx="254" cy="466.5" rx="2.6" ry="2" transform="rotate(0 254 466.5)" fill="none" stroke="#161616" stroke-width="1.1" />
<line x1="186" y1="467.5" x2="210" y2="481.5" stroke="#161616" stroke-width="0.9" />
<path d="M210 481.5 L203 479.6 L204.9 476.3 Z" fill="#161616" stroke="none"/>
<line x1="56" y1="390" x2="117.5" y2="426" stroke="#161616" stroke-width="0.9" />
<path d="M117.5 426 L110.5 424.1 L112.4 420.8 Z" fill="#161616" stroke="none"/>
<line x1="61" y1="475.5" x2="159.5" y2="531" stroke="#161616" stroke-width="0.9" />
<path d="M159.5 531 L152.5 529.2 L154.3 525.9 Z" fill="#161616" stroke="none"/>
<ellipse cx="191" cy="529.5" rx="5.5" ry="9" transform="rotate(-30 191 529.5)" fill="#fff" stroke="#161616" stroke-width="1.8" />
<path d="M155.5 539.2 L186.5 521.7 L195.5 537.3 L164.5 554.8 Z" fill="#fff" stroke="#161616" stroke-width="0" />
<line x1="155.5" y1="539.2" x2="186.5" y2="521.7" stroke="#161616" stroke-width="2" />
<line x1="164.5" y1="554.8" x2="195.5" y2="537.3" stroke="#161616" stroke-width="2" />
<path d="M159.7 537 L161.3 536.9 L163.1 537.5 L164.9 538.7 L166.6 540.4 L168 542.4 L169.1 544.7 L169.7 547 L169.8 549.1 L169.4 551 L168.5 552.4" fill="none" stroke="#161616" stroke-width="1.2" />
<path d="M162.9 535.2 L164.6 535.1 L166.4 535.7 L168.2 536.9 L169.9 538.5 L171.3 540.6 L172.3 542.8 L173 545.1 L173.1 547.3 L172.7 549.1 L171.8 550.5" fill="none" stroke="#161616" stroke-width="1.2" />
<path d="M166.2 533.3 L167.8 533.3 L169.6 533.8 L171.4 535 L173.1 536.7 L174.6 538.7 L175.6 541 L176.2 543.3 L176.3 545.4 L175.9 547.3 L175 548.7" fill="none" stroke="#161616" stroke-width="1.2" />
<path d="M169.4 531.5 L171.1 531.4 L172.9 532 L174.7 533.2 L176.4 534.8 L177.8 536.9 L178.9 539.1 L179.5 541.4 L179.6 543.6 L179.2 545.4 L178.3 546.8" fill="none" stroke="#161616" stroke-width="1.2" />
<path d="M172.7 529.6 L174.4 529.6 L176.2 530.2 L178 531.3 L179.7 533 L181.1 535 L182.1 537.3 L182.7 539.6 L182.8 541.7 L182.4 543.6 L181.6 545" fill="none" stroke="#161616" stroke-width="1.2" />
<path d="M176 527.8 L177.6 527.7 L179.4 528.3 L181.2 529.5 L182.9 531.2 L184.3 533.2 L185.4 535.5 L186 537.7 L186.1 539.9 L185.7 541.7 L184.8 543.1" fill="none" stroke="#161616" stroke-width="1.2" />
<path d="M179.2 526 L180.9 525.9 L182.7 526.5 L184.5 527.6 L186.2 529.3 L187.6 531.4 L188.7 533.6 L189.3 535.9 L189.4 538.1 L189 539.9 L188.1 541.3" fill="none" stroke="#161616" stroke-width="1.2" />
<path d="M182.5 524.1 L184.1 524.1 L185.9 524.6 L187.8 525.8 L189.4 527.5 L190.9 529.5 L191.9 531.8 L192.5 534.1 L192.6 536.2 L192.2 538.1 L191.4 539.5" fill="none" stroke="#161616" stroke-width="1.2" />
<ellipse cx="160" cy="547" rx="5.5" ry="9" transform="rotate(-30 160 547)" fill="#fff" stroke="#161616" stroke-width="2.1" />
<ellipse cx="160.5" cy="547" rx="3.2" ry="5.6" transform="rotate(-30 160.5 547)" fill="none" stroke="#161616" stroke-width="1.6" />
<path d="M198.5 556.5 L213.5 544.5 L227 556.5 L225.5 568.5 L213.5 577.5 L200 567 Z" fill="#fff" stroke="#161616" stroke-width="1.8" />
<path d="M198.5 556.5 L212 566 L227 556.5" fill="none" stroke="#161616" stroke-width="1.6" />
<line x1="212" y1="566" x2="213.5" y2="577.5" stroke="#161616" stroke-width="1.6" />
<ellipse cx="203.5" cy="560.5" rx="1.8" ry="2.2" transform="rotate(0 203.5 560.5)" fill="none" stroke="#161616" stroke-width="1.1" />
<ellipse cx="208" cy="568" rx="1.8" ry="2.2" transform="rotate(0 208 568)" fill="none" stroke="#161616" stroke-width="1.1" />
<path d="M183.6 561.5 L198 574.5 L190 604 L176.4 590.5 Z" fill="#fff" stroke="#161616" stroke-width="1.7" />
<ellipse cx="186" cy="571" rx="1.6" ry="2" transform="rotate(0 186 571)" fill="none" stroke="#161616" stroke-width="1" />
<ellipse cx="191.5" cy="578.5" rx="1.6" ry="2" transform="rotate(0 191.5 578.5)" fill="none" stroke="#161616" stroke-width="1" />
<line x1="186" y1="586" x2="187" y2="594" stroke="#161616" stroke-width="1" />
<line x1="167" y1="590.5" x2="198" y2="575.5" stroke="#161616" stroke-width="0.8" />
<ellipse cx="164" cy="592" rx="3.9" ry="5.6" transform="rotate(-20 164 592)" fill="#fff" stroke="#161616" stroke-width="1.8" />
<ellipse cx="164" cy="592" rx="1.7" ry="2.8" transform="rotate(-20 164 592)" fill="none" stroke="#161616" stroke-width="1.8" />
<line x1="155.4" y1="595.5" x2="145.9" y2="600.5" stroke="#161616" stroke-width="1.2" />
<line x1="157.6" y1="599.5" x2="148.1" y2="604.5" stroke="#161616" stroke-width="1.2" />
<ellipse cx="156.5" cy="597.5" rx="1.4" ry="2.3" transform="rotate(152.2 156.5 597.5)" fill="none" stroke="#161616" stroke-width="1.2" />
<path d="M154.7 601 L154.2 601.1 L153.5 600.9 L152.9 600.4 L152.4 599.6 L152.1 598.8 L152 598 L152.2 597.4 L152.6 597" fill="none" stroke="#161616" stroke-width="1.2" />
<path d="M151.9 602.5 L151.3 602.6 L150.7 602.4 L150.1 601.9 L149.6 601.1 L149.3 600.3 L149.2 599.5 L149.3 598.9 L149.7 598.5" fill="none" stroke="#161616" stroke-width="1.2" />
<path d="M149 604 L148.5 604.1 L147.8 603.9 L147.2 603.4 L146.7 602.6 L146.4 601.8 L146.3 601 L146.5 600.4 L146.9 600" fill="none" stroke="#161616" stroke-width="1.2" />
<ellipse cx="146" cy="603.5" rx="3.2" ry="4.4" transform="rotate(-25 146 603.5)" fill="#fff" stroke="#161616" stroke-width="1.6" />
<line x1="86" y1="547.5" x2="156.5" y2="586.5" stroke="#161616" stroke-width="0.9" />
<path d="M156.5 586.5 L149.5 584.8 L151.3 581.4 Z" fill="#161616" stroke="none"/>
<line x1="86" y1="639" x2="143" y2="606" stroke="#161616" stroke-width="0.9" />
<path d="M143 606 L137.9 611.2 L136 607.9 Z" fill="#161616" stroke="none"/>
<line x1="186.5" y1="633" x2="186.5" y2="605" stroke="#161616" stroke-width="0.8" />
<path d="M186.5 604 L188.4 610 L184.6 610 Z" fill="#161616" stroke="none"/>
<path d="M315.5 450 Q316 470 321.5 481" fill="none" stroke="#161616" stroke-width="1.5" />
</svg>
</body></html>
